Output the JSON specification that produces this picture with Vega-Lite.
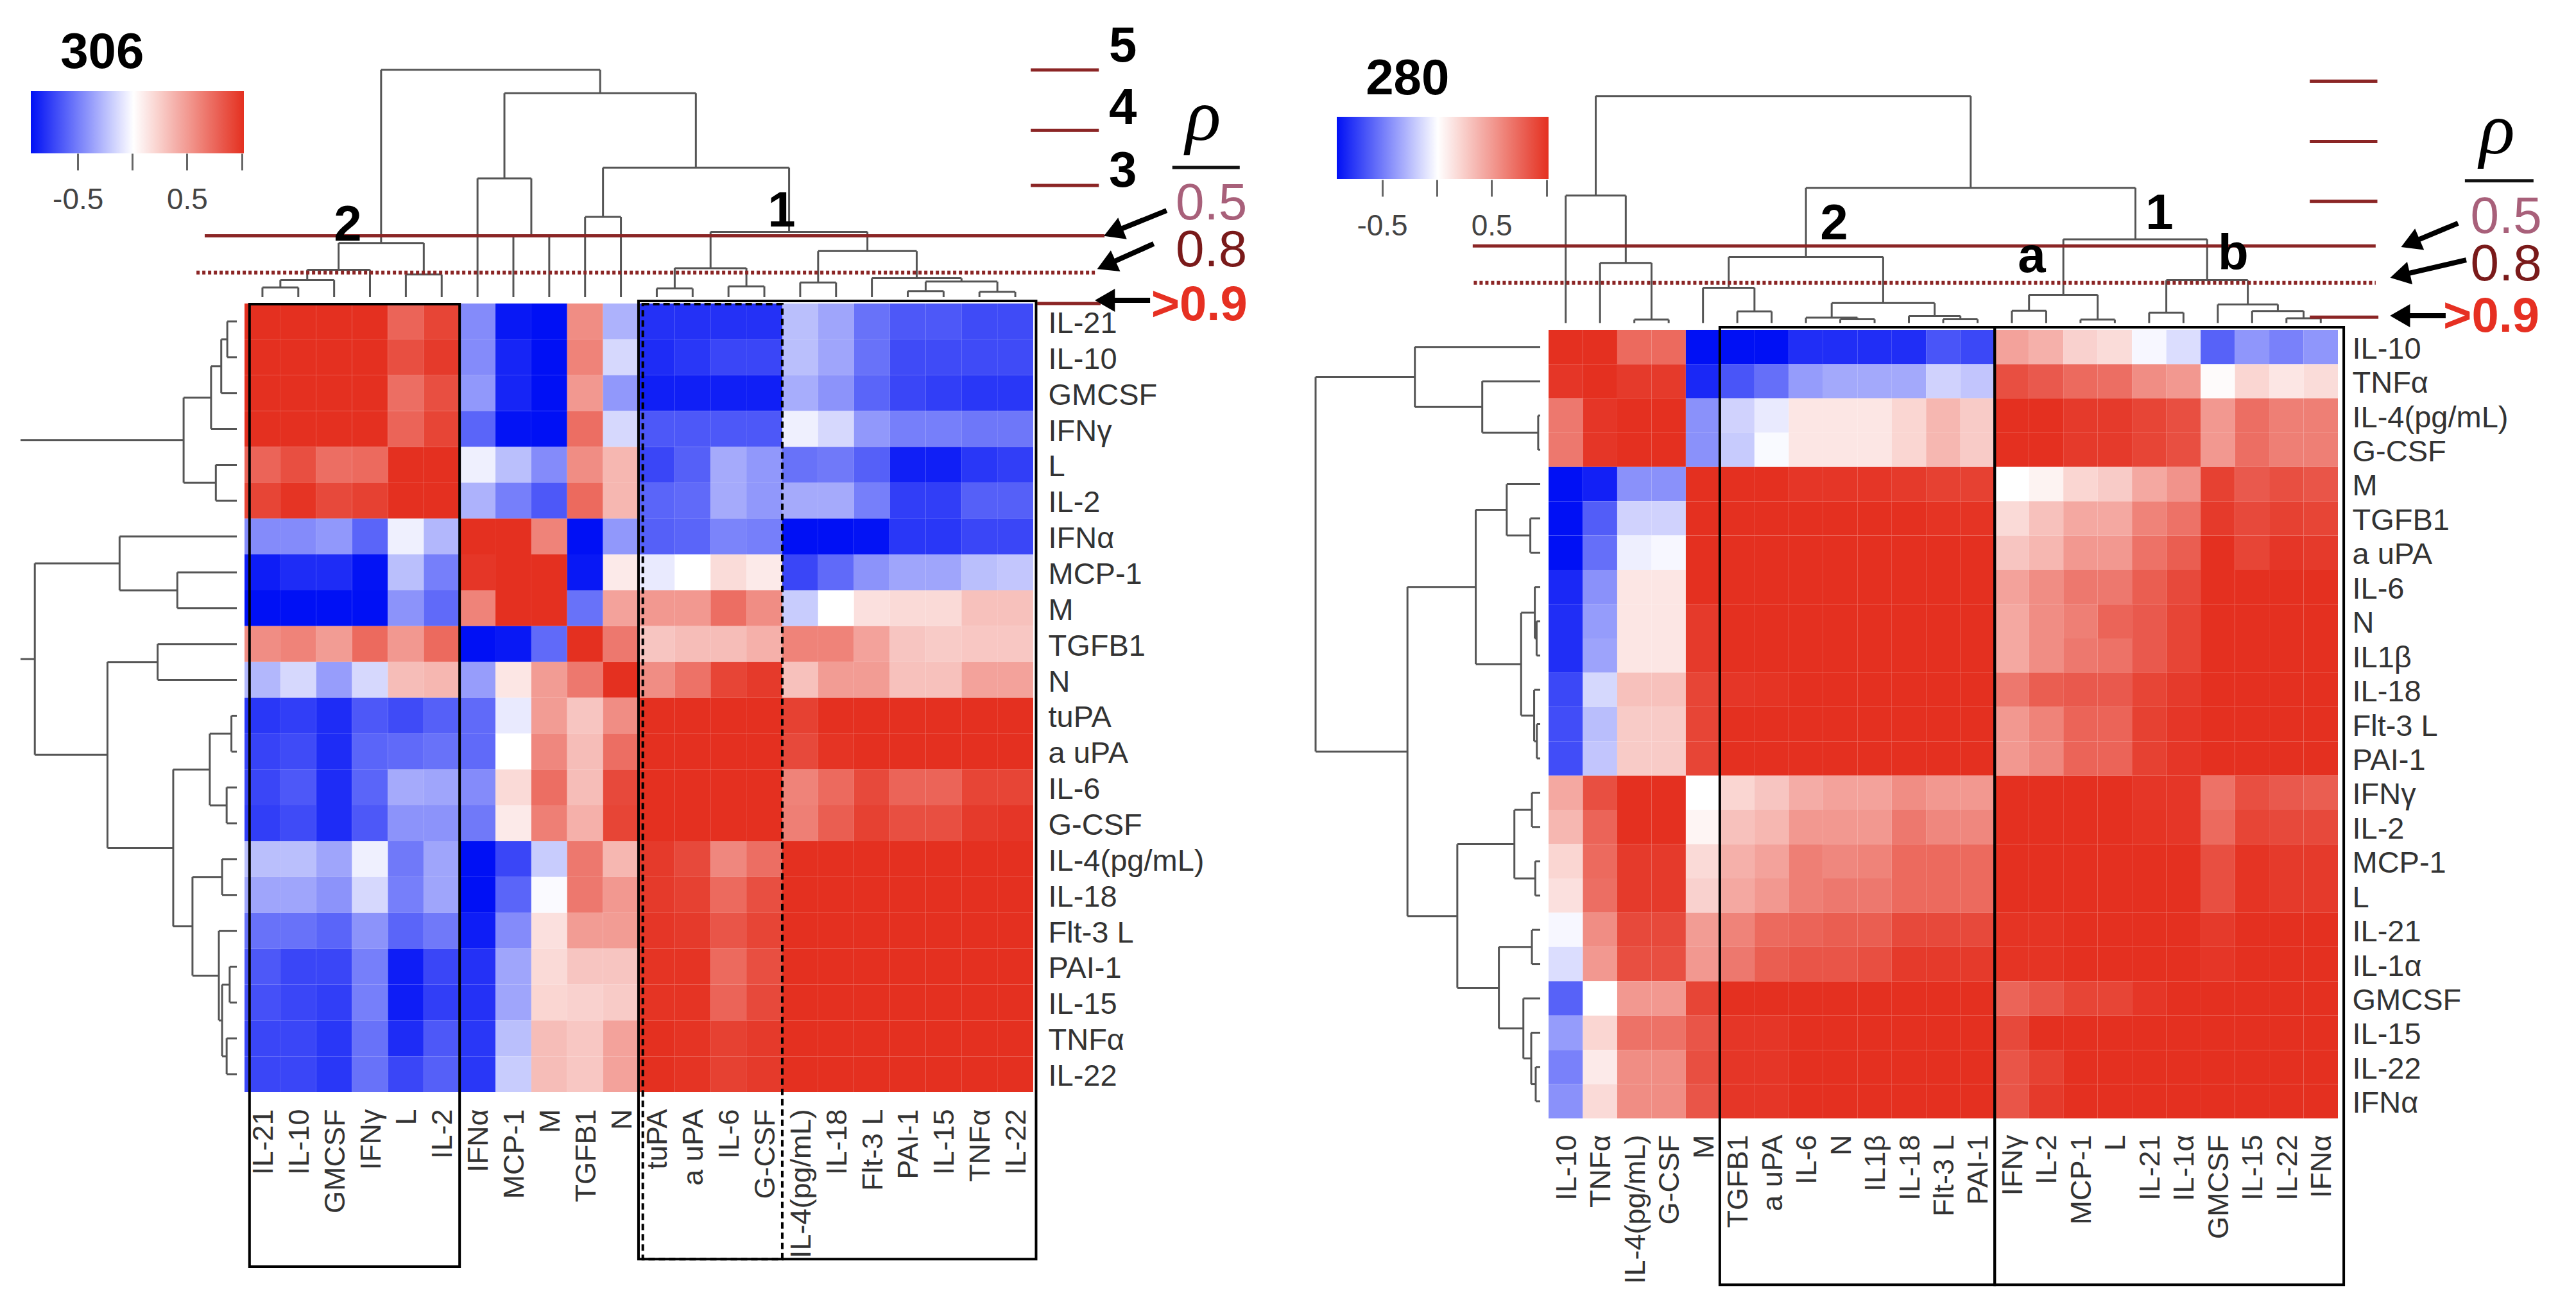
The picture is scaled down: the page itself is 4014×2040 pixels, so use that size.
{"$schema":"https://vega.github.io/schema/vega-lite/v6.json","width":4014,"height":2040,"autosize":{"type":"none"},"padding":0,"background":"#ffffff","config":{"view":{"stroke":null},"axis":{"grid":false}},
"datasets":{
"m306":[
{"r":"IL-21","c":"IL-21","v":1},{"r":"IL-21","c":"IL-10","v":1},{"r":"IL-21","c":"GMCSF","v":1},{"r":"IL-21","c":"IFNγ","v":1},{"r":"IL-21","c":"L","v":0.75},{"r":"IL-21","c":"IL-2","v":0.9},{"r":"IL-21","c":"IFNα","v":-0.45},{"r":"IL-21","c":"MCP-1","v":-0.9},{"r":"IL-21","c":"M","v":-1},{"r":"IL-21","c":"TGFB1","v":0.55},{"r":"IL-21","c":"N","v":-0.3},{"r":"IL-21","c":"tuPA","v":-0.8},{"r":"IL-21","c":"a uPA","v":-0.8},{"r":"IL-21","c":"IL-6","v":-0.8},{"r":"IL-21","c":"G-CSF","v":-0.8},{"r":"IL-21","c":"IL-4(pg/mL)","v":-0.25},{"r":"IL-21","c":"IL-18","v":-0.35},{"r":"IL-21","c":"Flt-3 L","v":-0.55},{"r":"IL-21","c":"PAI-1","v":-0.65},{"r":"IL-21","c":"IL-15","v":-0.65},{"r":"IL-21","c":"TNFα","v":-0.7},{"r":"IL-21","c":"IL-22","v":-0.7},
{"r":"IL-10","c":"IL-21","v":1},{"r":"IL-10","c":"IL-10","v":1},{"r":"IL-10","c":"GMCSF","v":1},{"r":"IL-10","c":"IFNγ","v":1},{"r":"IL-10","c":"L","v":0.85},{"r":"IL-10","c":"IL-2","v":0.95},{"r":"IL-10","c":"IFNα","v":-0.45},{"r":"IL-10","c":"MCP-1","v":-0.85},{"r":"IL-10","c":"M","v":-1},{"r":"IL-10","c":"TGFB1","v":0.6},{"r":"IL-10","c":"N","v":-0.15},{"r":"IL-10","c":"tuPA","v":-0.82},{"r":"IL-10","c":"a uPA","v":-0.78},{"r":"IL-10","c":"IL-6","v":-0.72},{"r":"IL-10","c":"G-CSF","v":-0.72},{"r":"IL-10","c":"IL-4(pg/mL)","v":-0.25},{"r":"IL-10","c":"IL-18","v":-0.35},{"r":"IL-10","c":"Flt-3 L","v":-0.55},{"r":"IL-10","c":"PAI-1","v":-0.7},{"r":"IL-10","c":"IL-15","v":-0.7},{"r":"IL-10","c":"TNFα","v":-0.7},{"r":"IL-10","c":"IL-22","v":-0.7},
{"r":"GMCSF","c":"IL-21","v":1},{"r":"GMCSF","c":"IL-10","v":1},{"r":"GMCSF","c":"GMCSF","v":1},{"r":"GMCSF","c":"IFNγ","v":1},{"r":"GMCSF","c":"L","v":0.7},{"r":"GMCSF","c":"IL-2","v":0.85},{"r":"GMCSF","c":"IFNα","v":-0.4},{"r":"GMCSF","c":"MCP-1","v":-0.85},{"r":"GMCSF","c":"M","v":-1},{"r":"GMCSF","c":"TGFB1","v":0.5},{"r":"GMCSF","c":"N","v":-0.4},{"r":"GMCSF","c":"tuPA","v":-0.87},{"r":"GMCSF","c":"a uPA","v":-0.87},{"r":"GMCSF","c":"IL-6","v":-0.87},{"r":"GMCSF","c":"G-CSF","v":-0.87},{"r":"GMCSF","c":"IL-4(pg/mL)","v":-0.32},{"r":"GMCSF","c":"IL-18","v":-0.42},{"r":"GMCSF","c":"Flt-3 L","v":-0.6},{"r":"GMCSF","c":"PAI-1","v":-0.72},{"r":"GMCSF","c":"IL-15","v":-0.75},{"r":"GMCSF","c":"TNFα","v":-0.78},{"r":"GMCSF","c":"IL-22","v":-0.78},
{"r":"IFNγ","c":"IL-21","v":1},{"r":"IFNγ","c":"IL-10","v":1},{"r":"IFNγ","c":"GMCSF","v":1},{"r":"IFNγ","c":"IFNγ","v":1},{"r":"IFNγ","c":"L","v":0.75},{"r":"IFNγ","c":"IL-2","v":0.9},{"r":"IFNγ","c":"IFNα","v":-0.6},{"r":"IFNγ","c":"MCP-1","v":-0.92},{"r":"IFNγ","c":"M","v":-1},{"r":"IFNγ","c":"TGFB1","v":0.7},{"r":"IFNγ","c":"N","v":-0.15},{"r":"IFNγ","c":"tuPA","v":-0.65},{"r":"IFNγ","c":"a uPA","v":-0.65},{"r":"IFNγ","c":"IL-6","v":-0.65},{"r":"IFNγ","c":"G-CSF","v":-0.65},{"r":"IFNγ","c":"IL-4(pg/mL)","v":-0.06},{"r":"IFNγ","c":"IL-18","v":-0.15},{"r":"IFNγ","c":"Flt-3 L","v":-0.4},{"r":"IFNγ","c":"PAI-1","v":-0.5},{"r":"IFNγ","c":"IL-15","v":-0.5},{"r":"IFNγ","c":"TNFα","v":-0.53},{"r":"IFNγ","c":"IL-22","v":-0.53},
{"r":"L","c":"IL-21","v":0.75},{"r":"L","c":"IL-10","v":0.85},{"r":"L","c":"GMCSF","v":0.7},{"r":"L","c":"IFNγ","v":0.72},{"r":"L","c":"L","v":1},{"r":"L","c":"IL-2","v":1},{"r":"L","c":"IFNα","v":-0.06},{"r":"L","c":"MCP-1","v":-0.25},{"r":"L","c":"M","v":-0.45},{"r":"L","c":"TGFB1","v":0.55},{"r":"L","c":"N","v":0.35},{"r":"L","c":"tuPA","v":-0.72},{"r":"L","c":"a uPA","v":-0.62},{"r":"L","c":"IL-6","v":-0.33},{"r":"L","c":"G-CSF","v":-0.4},{"r":"L","c":"IL-4(pg/mL)","v":-0.55},{"r":"L","c":"IL-18","v":-0.52},{"r":"L","c":"Flt-3 L","v":-0.62},{"r":"L","c":"PAI-1","v":-0.87},{"r":"L","c":"IL-15","v":-0.87},{"r":"L","c":"TNFα","v":-0.78},{"r":"L","c":"IL-22","v":-0.75},
{"r":"IL-2","c":"IL-21","v":0.9},{"r":"IL-2","c":"IL-10","v":0.98},{"r":"IL-2","c":"GMCSF","v":0.88},{"r":"IL-2","c":"IFNγ","v":0.92},{"r":"IL-2","c":"L","v":1},{"r":"IL-2","c":"IL-2","v":1},{"r":"IL-2","c":"IFNα","v":-0.3},{"r":"IL-2","c":"MCP-1","v":-0.5},{"r":"IL-2","c":"M","v":-0.65},{"r":"IL-2","c":"TGFB1","v":0.72},{"r":"IL-2","c":"N","v":0.35},{"r":"IL-2","c":"tuPA","v":-0.6},{"r":"IL-2","c":"a uPA","v":-0.58},{"r":"IL-2","c":"IL-6","v":-0.33},{"r":"IL-2","c":"G-CSF","v":-0.4},{"r":"IL-2","c":"IL-4(pg/mL)","v":-0.33},{"r":"IL-2","c":"IL-18","v":-0.33},{"r":"IL-2","c":"Flt-3 L","v":-0.5},{"r":"IL-2","c":"PAI-1","v":-0.75},{"r":"IL-2","c":"IL-15","v":-0.75},{"r":"IL-2","c":"TNFα","v":-0.62},{"r":"IL-2","c":"IL-22","v":-0.62},
{"r":"IFNα","c":"IL-21","v":-0.45},{"r":"IFNα","c":"IL-10","v":-0.45},{"r":"IFNα","c":"GMCSF","v":-0.4},{"r":"IFNα","c":"IFNγ","v":-0.6},{"r":"IFNα","c":"L","v":-0.06},{"r":"IFNα","c":"IL-2","v":-0.28},{"r":"IFNα","c":"IFNα","v":1},{"r":"IFNα","c":"MCP-1","v":1},{"r":"IFNα","c":"M","v":0.6},{"r":"IFNα","c":"TGFB1","v":-1},{"r":"IFNα","c":"N","v":-0.4},{"r":"IFNα","c":"tuPA","v":-0.62},{"r":"IFNα","c":"a uPA","v":-0.6},{"r":"IFNα","c":"IL-6","v":-0.48},{"r":"IFNα","c":"G-CSF","v":-0.5},{"r":"IFNα","c":"IL-4(pg/mL)","v":-1},{"r":"IFNα","c":"IL-18","v":-1},{"r":"IFNα","c":"Flt-3 L","v":-0.92},{"r":"IFNα","c":"PAI-1","v":-0.78},{"r":"IFNα","c":"IL-15","v":-0.78},{"r":"IFNα","c":"TNFα","v":-0.72},{"r":"IFNα","c":"IL-22","v":-0.72},
{"r":"MCP-1","c":"IL-21","v":-0.88},{"r":"MCP-1","c":"IL-10","v":-0.82},{"r":"MCP-1","c":"GMCSF","v":-0.82},{"r":"MCP-1","c":"IFNγ","v":-0.92},{"r":"MCP-1","c":"L","v":-0.25},{"r":"MCP-1","c":"IL-2","v":-0.5},{"r":"MCP-1","c":"IFNα","v":0.97},{"r":"MCP-1","c":"MCP-1","v":1},{"r":"MCP-1","c":"M","v":1},{"r":"MCP-1","c":"TGFB1","v":-0.9},{"r":"MCP-1","c":"N","v":0.1},{"r":"MCP-1","c":"tuPA","v":-0.08},{"r":"MCP-1","c":"a uPA","v":0},{"r":"MCP-1","c":"IL-6","v":0.17},{"r":"MCP-1","c":"G-CSF","v":0.1},{"r":"MCP-1","c":"IL-4(pg/mL)","v":-0.72},{"r":"MCP-1","c":"IL-18","v":-0.58},{"r":"MCP-1","c":"Flt-3 L","v":-0.42},{"r":"MCP-1","c":"PAI-1","v":-0.35},{"r":"MCP-1","c":"IL-15","v":-0.35},{"r":"MCP-1","c":"TNFα","v":-0.25},{"r":"MCP-1","c":"IL-22","v":-0.22},
{"r":"M","c":"IL-21","v":-1},{"r":"M","c":"IL-10","v":-1},{"r":"M","c":"GMCSF","v":-1},{"r":"M","c":"IFNγ","v":-1},{"r":"M","c":"L","v":-0.42},{"r":"M","c":"IL-2","v":-0.58},{"r":"M","c":"IFNα","v":0.6},{"r":"M","c":"MCP-1","v":1},{"r":"M","c":"M","v":1},{"r":"M","c":"TGFB1","v":-0.55},{"r":"M","c":"N","v":0.45},{"r":"M","c":"tuPA","v":0.5},{"r":"M","c":"a uPA","v":0.5},{"r":"M","c":"IL-6","v":0.7},{"r":"M","c":"G-CSF","v":0.55},{"r":"M","c":"IL-4(pg/mL)","v":-0.2},{"r":"M","c":"IL-18","v":0},{"r":"M","c":"Flt-3 L","v":0.15},{"r":"M","c":"PAI-1","v":0.18},{"r":"M","c":"IL-15","v":0.18},{"r":"M","c":"TNFα","v":0.3},{"r":"M","c":"IL-22","v":0.3},
{"r":"TGFB1","c":"IL-21","v":0.55},{"r":"TGFB1","c":"IL-10","v":0.6},{"r":"TGFB1","c":"GMCSF","v":0.48},{"r":"TGFB1","c":"IFNγ","v":0.72},{"r":"TGFB1","c":"L","v":0.5},{"r":"TGFB1","c":"IL-2","v":0.72},{"r":"TGFB1","c":"IFNα","v":-1},{"r":"TGFB1","c":"MCP-1","v":-0.9},{"r":"TGFB1","c":"M","v":-0.58},{"r":"TGFB1","c":"TGFB1","v":1},{"r":"TGFB1","c":"N","v":0.65},{"r":"TGFB1","c":"tuPA","v":0.28},{"r":"TGFB1","c":"a uPA","v":0.32},{"r":"TGFB1","c":"IL-6","v":0.32},{"r":"TGFB1","c":"G-CSF","v":0.38},{"r":"TGFB1","c":"IL-4(pg/mL)","v":0.6},{"r":"TGFB1","c":"IL-18","v":0.6},{"r":"TGFB1","c":"Flt-3 L","v":0.45},{"r":"TGFB1","c":"PAI-1","v":0.28},{"r":"TGFB1","c":"IL-15","v":0.25},{"r":"TGFB1","c":"TNFα","v":0.27},{"r":"TGFB1","c":"IL-22","v":0.27},
{"r":"N","c":"IL-21","v":-0.28},{"r":"N","c":"IL-10","v":-0.15},{"r":"N","c":"GMCSF","v":-0.38},{"r":"N","c":"IFNγ","v":-0.15},{"r":"N","c":"L","v":0.32},{"r":"N","c":"IL-2","v":0.35},{"r":"N","c":"IFNα","v":-0.38},{"r":"N","c":"MCP-1","v":0.12},{"r":"N","c":"M","v":0.48},{"r":"N","c":"TGFB1","v":0.65},{"r":"N","c":"N","v":1},{"r":"N","c":"tuPA","v":0.55},{"r":"N","c":"a uPA","v":0.68},{"r":"N","c":"IL-6","v":0.9},{"r":"N","c":"G-CSF","v":0.95},{"r":"N","c":"IL-4(pg/mL)","v":0.3},{"r":"N","c":"IL-18","v":0.48},{"r":"N","c":"Flt-3 L","v":0.48},{"r":"N","c":"PAI-1","v":0.3},{"r":"N","c":"IL-15","v":0.3},{"r":"N","c":"TNFα","v":0.45},{"r":"N","c":"IL-22","v":0.45},
{"r":"tuPA","c":"IL-21","v":-0.78},{"r":"tuPA","c":"IL-10","v":-0.75},{"r":"tuPA","c":"GMCSF","v":-0.82},{"r":"tuPA","c":"IFNγ","v":-0.65},{"r":"tuPA","c":"L","v":-0.7},{"r":"tuPA","c":"IL-2","v":-0.62},{"r":"tuPA","c":"IFNα","v":-0.58},{"r":"tuPA","c":"MCP-1","v":-0.08},{"r":"tuPA","c":"M","v":0.48},{"r":"tuPA","c":"TGFB1","v":0.28},{"r":"tuPA","c":"N","v":0.55},{"r":"tuPA","c":"tuPA","v":1},{"r":"tuPA","c":"a uPA","v":1},{"r":"tuPA","c":"IL-6","v":1},{"r":"tuPA","c":"G-CSF","v":1},{"r":"tuPA","c":"IL-4(pg/mL)","v":0.92},{"r":"tuPA","c":"IL-18","v":1},{"r":"tuPA","c":"Flt-3 L","v":1},{"r":"tuPA","c":"PAI-1","v":1},{"r":"tuPA","c":"IL-15","v":1},{"r":"tuPA","c":"TNFα","v":1},{"r":"tuPA","c":"IL-22","v":1},
{"r":"a uPA","c":"IL-21","v":-0.73},{"r":"a uPA","c":"IL-10","v":-0.7},{"r":"a uPA","c":"GMCSF","v":-0.82},{"r":"a uPA","c":"IFNγ","v":-0.6},{"r":"a uPA","c":"L","v":-0.58},{"r":"a uPA","c":"IL-2","v":-0.55},{"r":"a uPA","c":"IFNα","v":-0.58},{"r":"a uPA","c":"MCP-1","v":0},{"r":"a uPA","c":"M","v":0.58},{"r":"a uPA","c":"TGFB1","v":0.32},{"r":"a uPA","c":"N","v":0.7},{"r":"a uPA","c":"tuPA","v":1},{"r":"a uPA","c":"a uPA","v":1},{"r":"a uPA","c":"IL-6","v":1},{"r":"a uPA","c":"G-CSF","v":1},{"r":"a uPA","c":"IL-4(pg/mL)","v":0.88},{"r":"a uPA","c":"IL-18","v":0.98},{"r":"a uPA","c":"Flt-3 L","v":1},{"r":"a uPA","c":"PAI-1","v":1},{"r":"a uPA","c":"IL-15","v":1},{"r":"a uPA","c":"TNFα","v":1},{"r":"a uPA","c":"IL-22","v":1},
{"r":"IL-6","c":"IL-21","v":-0.72},{"r":"IL-6","c":"IL-10","v":-0.65},{"r":"IL-6","c":"GMCSF","v":-0.82},{"r":"IL-6","c":"IFNγ","v":-0.6},{"r":"IL-6","c":"L","v":-0.33},{"r":"IL-6","c":"IL-2","v":-0.35},{"r":"IL-6","c":"IFNα","v":-0.45},{"r":"IL-6","c":"MCP-1","v":0.18},{"r":"IL-6","c":"M","v":0.7},{"r":"IL-6","c":"TGFB1","v":0.32},{"r":"IL-6","c":"N","v":0.88},{"r":"IL-6","c":"tuPA","v":1},{"r":"IL-6","c":"a uPA","v":1},{"r":"IL-6","c":"IL-6","v":1},{"r":"IL-6","c":"G-CSF","v":1},{"r":"IL-6","c":"IL-4(pg/mL)","v":0.6},{"r":"IL-6","c":"IL-18","v":0.72},{"r":"IL-6","c":"Flt-3 L","v":0.88},{"r":"IL-6","c":"PAI-1","v":0.75},{"r":"IL-6","c":"IL-15","v":0.75},{"r":"IL-6","c":"TNFα","v":0.9},{"r":"IL-6","c":"IL-22","v":0.9},
{"r":"G-CSF","c":"IL-21","v":-0.75},{"r":"G-CSF","c":"IL-10","v":-0.7},{"r":"G-CSF","c":"GMCSF","v":-0.82},{"r":"G-CSF","c":"IFNγ","v":-0.65},{"r":"G-CSF","c":"L","v":-0.42},{"r":"G-CSF","c":"IL-2","v":-0.42},{"r":"G-CSF","c":"IFNα","v":-0.52},{"r":"G-CSF","c":"MCP-1","v":0.1},{"r":"G-CSF","c":"M","v":0.62},{"r":"G-CSF","c":"TGFB1","v":0.38},{"r":"G-CSF","c":"N","v":0.9},{"r":"G-CSF","c":"tuPA","v":1},{"r":"G-CSF","c":"a uPA","v":1},{"r":"G-CSF","c":"IL-6","v":1},{"r":"G-CSF","c":"G-CSF","v":1},{"r":"G-CSF","c":"IL-4(pg/mL)","v":0.62},{"r":"G-CSF","c":"IL-18","v":0.78},{"r":"G-CSF","c":"Flt-3 L","v":0.92},{"r":"G-CSF","c":"PAI-1","v":0.85},{"r":"G-CSF","c":"IL-15","v":0.85},{"r":"G-CSF","c":"TNFα","v":0.95},{"r":"G-CSF","c":"IL-22","v":0.97},
{"r":"IL-4(pg/mL)","c":"IL-21","v":-0.25},{"r":"IL-4(pg/mL)","c":"IL-10","v":-0.25},{"r":"IL-4(pg/mL)","c":"GMCSF","v":-0.35},{"r":"IL-4(pg/mL)","c":"IFNγ","v":-0.06},{"r":"IL-4(pg/mL)","c":"L","v":-0.52},{"r":"IL-4(pg/mL)","c":"IL-2","v":-0.35},{"r":"IL-4(pg/mL)","c":"IFNα","v":-1},{"r":"IL-4(pg/mL)","c":"MCP-1","v":-0.72},{"r":"IL-4(pg/mL)","c":"M","v":-0.2},{"r":"IL-4(pg/mL)","c":"TGFB1","v":0.65},{"r":"IL-4(pg/mL)","c":"N","v":0.35},{"r":"IL-4(pg/mL)","c":"tuPA","v":0.95},{"r":"IL-4(pg/mL)","c":"a uPA","v":0.88},{"r":"IL-4(pg/mL)","c":"IL-6","v":0.58},{"r":"IL-4(pg/mL)","c":"G-CSF","v":0.7},{"r":"IL-4(pg/mL)","c":"IL-4(pg/mL)","v":1},{"r":"IL-4(pg/mL)","c":"IL-18","v":1},{"r":"IL-4(pg/mL)","c":"Flt-3 L","v":1},{"r":"IL-4(pg/mL)","c":"PAI-1","v":1},{"r":"IL-4(pg/mL)","c":"IL-15","v":1},{"r":"IL-4(pg/mL)","c":"TNFα","v":1},{"r":"IL-4(pg/mL)","c":"IL-22","v":1},
{"r":"IL-18","c":"IL-21","v":-0.35},{"r":"IL-18","c":"IL-10","v":-0.35},{"r":"IL-18","c":"GMCSF","v":-0.42},{"r":"IL-18","c":"IFNγ","v":-0.15},{"r":"IL-18","c":"L","v":-0.5},{"r":"IL-18","c":"IL-2","v":-0.35},{"r":"IL-18","c":"IFNα","v":-0.98},{"r":"IL-18","c":"MCP-1","v":-0.6},{"r":"IL-18","c":"M","v":-0.02},{"r":"IL-18","c":"TGFB1","v":0.65},{"r":"IL-18","c":"N","v":0.5},{"r":"IL-18","c":"tuPA","v":0.95},{"r":"IL-18","c":"a uPA","v":0.92},{"r":"IL-18","c":"IL-6","v":0.72},{"r":"IL-18","c":"G-CSF","v":0.85},{"r":"IL-18","c":"IL-4(pg/mL)","v":1},{"r":"IL-18","c":"IL-18","v":1},{"r":"IL-18","c":"Flt-3 L","v":1},{"r":"IL-18","c":"PAI-1","v":1},{"r":"IL-18","c":"IL-15","v":1},{"r":"IL-18","c":"TNFα","v":1},{"r":"IL-18","c":"IL-22","v":1},
{"r":"Flt-3 L","c":"IL-21","v":-0.55},{"r":"Flt-3 L","c":"IL-10","v":-0.55},{"r":"Flt-3 L","c":"GMCSF","v":-0.6},{"r":"Flt-3 L","c":"IFNγ","v":-0.42},{"r":"Flt-3 L","c":"L","v":-0.6},{"r":"Flt-3 L","c":"IL-2","v":-0.52},{"r":"Flt-3 L","c":"IFNα","v":-0.88},{"r":"Flt-3 L","c":"MCP-1","v":-0.45},{"r":"Flt-3 L","c":"M","v":0.15},{"r":"Flt-3 L","c":"TGFB1","v":0.48},{"r":"Flt-3 L","c":"N","v":0.48},{"r":"Flt-3 L","c":"tuPA","v":0.97},{"r":"Flt-3 L","c":"a uPA","v":0.95},{"r":"Flt-3 L","c":"IL-6","v":0.82},{"r":"Flt-3 L","c":"G-CSF","v":0.9},{"r":"Flt-3 L","c":"IL-4(pg/mL)","v":1},{"r":"Flt-3 L","c":"IL-18","v":1},{"r":"Flt-3 L","c":"Flt-3 L","v":1},{"r":"Flt-3 L","c":"PAI-1","v":1},{"r":"Flt-3 L","c":"IL-15","v":1},{"r":"Flt-3 L","c":"TNFα","v":1},{"r":"Flt-3 L","c":"IL-22","v":1},
{"r":"PAI-1","c":"IL-21","v":-0.65},{"r":"PAI-1","c":"IL-10","v":-0.72},{"r":"PAI-1","c":"GMCSF","v":-0.72},{"r":"PAI-1","c":"IFNγ","v":-0.5},{"r":"PAI-1","c":"L","v":-0.88},{"r":"PAI-1","c":"IL-2","v":-0.72},{"r":"PAI-1","c":"IFNα","v":-0.8},{"r":"PAI-1","c":"MCP-1","v":-0.35},{"r":"PAI-1","c":"M","v":0.18},{"r":"PAI-1","c":"TGFB1","v":0.28},{"r":"PAI-1","c":"N","v":0.28},{"r":"PAI-1","c":"tuPA","v":0.98},{"r":"PAI-1","c":"a uPA","v":0.98},{"r":"PAI-1","c":"IL-6","v":0.72},{"r":"PAI-1","c":"G-CSF","v":0.85},{"r":"PAI-1","c":"IL-4(pg/mL)","v":1},{"r":"PAI-1","c":"IL-18","v":1},{"r":"PAI-1","c":"Flt-3 L","v":1},{"r":"PAI-1","c":"PAI-1","v":1},{"r":"PAI-1","c":"IL-15","v":1},{"r":"PAI-1","c":"TNFα","v":1},{"r":"PAI-1","c":"IL-22","v":1},
{"r":"IL-15","c":"IL-21","v":-0.68},{"r":"IL-15","c":"IL-10","v":-0.72},{"r":"IL-15","c":"GMCSF","v":-0.75},{"r":"IL-15","c":"IFNγ","v":-0.5},{"r":"IL-15","c":"L","v":-0.88},{"r":"IL-15","c":"IL-2","v":-0.75},{"r":"IL-15","c":"IFNα","v":-0.8},{"r":"IL-15","c":"MCP-1","v":-0.35},{"r":"IL-15","c":"M","v":0.2},{"r":"IL-15","c":"TGFB1","v":0.22},{"r":"IL-15","c":"N","v":0.25},{"r":"IL-15","c":"tuPA","v":0.98},{"r":"IL-15","c":"a uPA","v":0.98},{"r":"IL-15","c":"IL-6","v":0.75},{"r":"IL-15","c":"G-CSF","v":0.88},{"r":"IL-15","c":"IL-4(pg/mL)","v":1},{"r":"IL-15","c":"IL-18","v":1},{"r":"IL-15","c":"Flt-3 L","v":1},{"r":"IL-15","c":"PAI-1","v":1},{"r":"IL-15","c":"IL-15","v":1},{"r":"IL-15","c":"TNFα","v":1},{"r":"IL-15","c":"IL-22","v":1},
{"r":"TNFα","c":"IL-21","v":-0.72},{"r":"TNFα","c":"IL-10","v":-0.72},{"r":"TNFα","c":"GMCSF","v":-0.78},{"r":"TNFα","c":"IFNγ","v":-0.55},{"r":"TNFα","c":"L","v":-0.82},{"r":"TNFα","c":"IL-2","v":-0.65},{"r":"TNFα","c":"IFNα","v":-0.78},{"r":"TNFα","c":"MCP-1","v":-0.25},{"r":"TNFα","c":"M","v":0.32},{"r":"TNFα","c":"TGFB1","v":0.27},{"r":"TNFα","c":"N","v":0.45},{"r":"TNFα","c":"tuPA","v":1},{"r":"TNFα","c":"a uPA","v":0.98},{"r":"TNFα","c":"IL-6","v":0.92},{"r":"TNFα","c":"G-CSF","v":0.95},{"r":"TNFα","c":"IL-4(pg/mL)","v":1},{"r":"TNFα","c":"IL-18","v":1},{"r":"TNFα","c":"Flt-3 L","v":1},{"r":"TNFα","c":"PAI-1","v":1},{"r":"TNFα","c":"IL-15","v":1},{"r":"TNFα","c":"TNFα","v":1},{"r":"TNFα","c":"IL-22","v":1},
{"r":"IL-22","c":"IL-21","v":-0.72},{"r":"IL-22","c":"IL-10","v":-0.72},{"r":"IL-22","c":"GMCSF","v":-0.78},{"r":"IL-22","c":"IFNγ","v":-0.55},{"r":"IL-22","c":"L","v":-0.72},{"r":"IL-22","c":"IL-2","v":-0.62},{"r":"IL-22","c":"IFNα","v":-0.78},{"r":"IL-22","c":"MCP-1","v":-0.2},{"r":"IL-22","c":"M","v":0.32},{"r":"IL-22","c":"TGFB1","v":0.27},{"r":"IL-22","c":"N","v":0.45},{"r":"IL-22","c":"tuPA","v":1},{"r":"IL-22","c":"a uPA","v":0.98},{"r":"IL-22","c":"IL-6","v":0.92},{"r":"IL-22","c":"G-CSF","v":0.95},{"r":"IL-22","c":"IL-4(pg/mL)","v":1},{"r":"IL-22","c":"IL-18","v":1},{"r":"IL-22","c":"Flt-3 L","v":1},{"r":"IL-22","c":"PAI-1","v":1},{"r":"IL-22","c":"IL-15","v":1},{"r":"IL-22","c":"TNFα","v":1},{"r":"IL-22","c":"IL-22","v":1}
],
"m280":[
{"r":"IL-10","c":"IL-10","v":1},{"r":"IL-10","c":"TNFα","v":1},{"r":"IL-10","c":"IL-4(pg/mL)","v":0.72},{"r":"IL-10","c":"G-CSF","v":0.72},{"r":"IL-10","c":"M","v":-1},{"r":"IL-10","c":"TGFB1","v":-0.95},{"r":"IL-10","c":"a uPA","v":-0.92},{"r":"IL-10","c":"IL-6","v":-0.8},{"r":"IL-10","c":"N","v":-0.8},{"r":"IL-10","c":"IL1β","v":-0.8},{"r":"IL-10","c":"IL-18","v":-0.8},{"r":"IL-10","c":"Flt-3 L","v":-0.65},{"r":"IL-10","c":"PAI-1","v":-0.7},{"r":"IL-10","c":"IFNγ","v":0.45},{"r":"IL-10","c":"IL-2","v":0.38},{"r":"IL-10","c":"MCP-1","v":0.22},{"r":"IL-10","c":"L","v":0.17},{"r":"IL-10","c":"IL-21","v":-0.03},{"r":"IL-10","c":"IL-1α","v":-0.13},{"r":"IL-10","c":"GMCSF","v":-0.6},{"r":"IL-10","c":"IL-15","v":-0.4},{"r":"IL-10","c":"IL-22","v":-0.48},{"r":"IL-10","c":"IFNα","v":-0.4},
{"r":"TNFα","c":"IL-10","v":0.97},{"r":"TNFα","c":"TNFα","v":1},{"r":"TNFα","c":"IL-4(pg/mL)","v":0.95},{"r":"TNFα","c":"G-CSF","v":0.95},{"r":"TNFα","c":"M","v":-0.82},{"r":"TNFα","c":"TGFB1","v":-0.65},{"r":"TNFα","c":"a uPA","v":-0.55},{"r":"TNFα","c":"IL-6","v":-0.38},{"r":"TNFα","c":"N","v":-0.33},{"r":"TNFα","c":"IL1β","v":-0.33},{"r":"TNFα","c":"IL-18","v":-0.33},{"r":"TNFα","c":"Flt-3 L","v":-0.17},{"r":"TNFα","c":"PAI-1","v":-0.22},{"r":"TNFα","c":"IFNγ","v":0.85},{"r":"TNFα","c":"IL-2","v":0.8},{"r":"TNFα","c":"MCP-1","v":0.72},{"r":"TNFα","c":"L","v":0.7},{"r":"TNFα","c":"IL-21","v":0.55},{"r":"TNFα","c":"IL-1α","v":0.5},{"r":"TNFα","c":"GMCSF","v":0.02},{"r":"TNFα","c":"IL-15","v":0.2},{"r":"TNFα","c":"IL-22","v":0.12},{"r":"TNFα","c":"IFNα","v":0.17},
{"r":"IL-4(pg/mL)","c":"IL-10","v":0.65},{"r":"IL-4(pg/mL)","c":"TNFα","v":0.97},{"r":"IL-4(pg/mL)","c":"IL-4(pg/mL)","v":1},{"r":"IL-4(pg/mL)","c":"G-CSF","v":1},{"r":"IL-4(pg/mL)","c":"M","v":-0.42},{"r":"IL-4(pg/mL)","c":"TGFB1","v":-0.17},{"r":"IL-4(pg/mL)","c":"a uPA","v":-0.08},{"r":"IL-4(pg/mL)","c":"IL-6","v":0.12},{"r":"IL-4(pg/mL)","c":"N","v":0.12},{"r":"IL-4(pg/mL)","c":"IL1β","v":0.12},{"r":"IL-4(pg/mL)","c":"IL-18","v":0.2},{"r":"IL-4(pg/mL)","c":"Flt-3 L","v":0.35},{"r":"IL-4(pg/mL)","c":"PAI-1","v":0.25},{"r":"IL-4(pg/mL)","c":"IFNγ","v":1},{"r":"IL-4(pg/mL)","c":"IL-2","v":1},{"r":"IL-4(pg/mL)","c":"MCP-1","v":0.95},{"r":"IL-4(pg/mL)","c":"L","v":0.95},{"r":"IL-4(pg/mL)","c":"IL-21","v":0.9},{"r":"IL-4(pg/mL)","c":"IL-1α","v":0.85},{"r":"IL-4(pg/mL)","c":"GMCSF","v":0.5},{"r":"IL-4(pg/mL)","c":"IL-15","v":0.7},{"r":"IL-4(pg/mL)","c":"IL-22","v":0.62},{"r":"IL-4(pg/mL)","c":"IFNα","v":0.62},
{"r":"G-CSF","c":"IL-10","v":0.65},{"r":"G-CSF","c":"TNFα","v":0.97},{"r":"G-CSF","c":"IL-4(pg/mL)","v":1},{"r":"G-CSF","c":"G-CSF","v":1},{"r":"G-CSF","c":"M","v":-0.42},{"r":"G-CSF","c":"TGFB1","v":-0.2},{"r":"G-CSF","c":"a uPA","v":-0.02},{"r":"G-CSF","c":"IL-6","v":0.12},{"r":"G-CSF","c":"N","v":0.12},{"r":"G-CSF","c":"IL1β","v":0.12},{"r":"G-CSF","c":"IL-18","v":0.2},{"r":"G-CSF","c":"Flt-3 L","v":0.35},{"r":"G-CSF","c":"PAI-1","v":0.25},{"r":"G-CSF","c":"IFNγ","v":1},{"r":"G-CSF","c":"IL-2","v":1},{"r":"G-CSF","c":"MCP-1","v":0.95},{"r":"G-CSF","c":"L","v":0.95},{"r":"G-CSF","c":"IL-21","v":0.9},{"r":"G-CSF","c":"IL-1α","v":0.85},{"r":"G-CSF","c":"GMCSF","v":0.5},{"r":"G-CSF","c":"IL-15","v":0.7},{"r":"G-CSF","c":"IL-22","v":0.62},{"r":"G-CSF","c":"IFNα","v":0.62},
{"r":"M","c":"IL-10","v":-1},{"r":"M","c":"TNFα","v":-0.85},{"r":"M","c":"IL-4(pg/mL)","v":-0.42},{"r":"M","c":"G-CSF","v":-0.42},{"r":"M","c":"M","v":1},{"r":"M","c":"TGFB1","v":1},{"r":"M","c":"a uPA","v":1},{"r":"M","c":"IL-6","v":0.97},{"r":"M","c":"N","v":0.97},{"r":"M","c":"IL1β","v":0.97},{"r":"M","c":"IL-18","v":0.95},{"r":"M","c":"Flt-3 L","v":0.92},{"r":"M","c":"PAI-1","v":0.92},{"r":"M","c":"IFNγ","v":0},{"r":"M","c":"IL-2","v":0.06},{"r":"M","c":"MCP-1","v":0.2},{"r":"M","c":"L","v":0.25},{"r":"M","c":"IL-21","v":0.42},{"r":"M","c":"IL-1α","v":0.52},{"r":"M","c":"GMCSF","v":0.92},{"r":"M","c":"IL-15","v":0.8},{"r":"M","c":"IL-22","v":0.85},{"r":"M","c":"IFNα","v":0.82},
{"r":"TGFB1","c":"IL-10","v":-0.95},{"r":"TGFB1","c":"TNFα","v":-0.62},{"r":"TGFB1","c":"IL-4(pg/mL)","v":-0.17},{"r":"TGFB1","c":"G-CSF","v":-0.17},{"r":"TGFB1","c":"M","v":1},{"r":"TGFB1","c":"TGFB1","v":1},{"r":"TGFB1","c":"a uPA","v":1},{"r":"TGFB1","c":"IL-6","v":1},{"r":"TGFB1","c":"N","v":1},{"r":"TGFB1","c":"IL1β","v":1},{"r":"TGFB1","c":"IL-18","v":1},{"r":"TGFB1","c":"Flt-3 L","v":0.98},{"r":"TGFB1","c":"PAI-1","v":0.98},{"r":"TGFB1","c":"IFNγ","v":0.18},{"r":"TGFB1","c":"IL-2","v":0.3},{"r":"TGFB1","c":"MCP-1","v":0.42},{"r":"TGFB1","c":"L","v":0.42},{"r":"TGFB1","c":"IL-21","v":0.6},{"r":"TGFB1","c":"IL-1α","v":0.68},{"r":"TGFB1","c":"GMCSF","v":0.95},{"r":"TGFB1","c":"IL-15","v":0.88},{"r":"TGFB1","c":"IL-22","v":0.92},{"r":"TGFB1","c":"IFNα","v":0.9},
{"r":"a uPA","c":"IL-10","v":-0.95},{"r":"a uPA","c":"TNFα","v":-0.55},{"r":"a uPA","c":"IL-4(pg/mL)","v":-0.06},{"r":"a uPA","c":"G-CSF","v":-0.03},{"r":"a uPA","c":"M","v":1},{"r":"a uPA","c":"TGFB1","v":1},{"r":"a uPA","c":"a uPA","v":1},{"r":"a uPA","c":"IL-6","v":1},{"r":"a uPA","c":"N","v":1},{"r":"a uPA","c":"IL1β","v":1},{"r":"a uPA","c":"IL-18","v":1},{"r":"a uPA","c":"Flt-3 L","v":1},{"r":"a uPA","c":"PAI-1","v":1},{"r":"a uPA","c":"IFNγ","v":0.28},{"r":"a uPA","c":"IL-2","v":0.35},{"r":"a uPA","c":"MCP-1","v":0.5},{"r":"a uPA","c":"L","v":0.5},{"r":"a uPA","c":"IL-21","v":0.68},{"r":"a uPA","c":"IL-1α","v":0.78},{"r":"a uPA","c":"GMCSF","v":1},{"r":"a uPA","c":"IL-15","v":0.9},{"r":"a uPA","c":"IL-22","v":0.97},{"r":"a uPA","c":"IFNα","v":0.95},
{"r":"IL-6","c":"IL-10","v":-0.82},{"r":"IL-6","c":"TNFα","v":-0.42},{"r":"IL-6","c":"IL-4(pg/mL)","v":0.12},{"r":"IL-6","c":"G-CSF","v":0.12},{"r":"IL-6","c":"M","v":1},{"r":"IL-6","c":"TGFB1","v":1},{"r":"IL-6","c":"a uPA","v":1},{"r":"IL-6","c":"IL-6","v":1},{"r":"IL-6","c":"N","v":1},{"r":"IL-6","c":"IL1β","v":1},{"r":"IL-6","c":"IL-18","v":1},{"r":"IL-6","c":"Flt-3 L","v":1},{"r":"IL-6","c":"PAI-1","v":1},{"r":"IL-6","c":"IFNγ","v":0.45},{"r":"IL-6","c":"IL-2","v":0.55},{"r":"IL-6","c":"MCP-1","v":0.65},{"r":"IL-6","c":"L","v":0.65},{"r":"IL-6","c":"IL-21","v":0.78},{"r":"IL-6","c":"IL-1α","v":0.88},{"r":"IL-6","c":"GMCSF","v":1},{"r":"IL-6","c":"IL-15","v":1},{"r":"IL-6","c":"IL-22","v":1},{"r":"IL-6","c":"IFNα","v":1},
{"r":"N","c":"IL-10","v":-0.8},{"r":"N","c":"TNFα","v":-0.38},{"r":"N","c":"IL-4(pg/mL)","v":0.12},{"r":"N","c":"G-CSF","v":0.12},{"r":"N","c":"M","v":0.95},{"r":"N","c":"TGFB1","v":1},{"r":"N","c":"a uPA","v":1},{"r":"N","c":"IL-6","v":1},{"r":"N","c":"N","v":1},{"r":"N","c":"IL1β","v":1},{"r":"N","c":"IL-18","v":1},{"r":"N","c":"Flt-3 L","v":1},{"r":"N","c":"PAI-1","v":1},{"r":"N","c":"IFNγ","v":0.42},{"r":"N","c":"IL-2","v":0.55},{"r":"N","c":"MCP-1","v":0.62},{"r":"N","c":"L","v":0.75},{"r":"N","c":"IL-21","v":0.8},{"r":"N","c":"IL-1α","v":0.9},{"r":"N","c":"GMCSF","v":1},{"r":"N","c":"IL-15","v":1},{"r":"N","c":"IL-22","v":1},{"r":"N","c":"IFNα","v":1},
{"r":"IL1β","c":"IL-10","v":-0.8},{"r":"IL1β","c":"TNFα","v":-0.35},{"r":"IL1β","c":"IL-4(pg/mL)","v":0.12},{"r":"IL1β","c":"G-CSF","v":0.12},{"r":"IL1β","c":"M","v":0.95},{"r":"IL1β","c":"TGFB1","v":1},{"r":"IL1β","c":"a uPA","v":1},{"r":"IL1β","c":"IL-6","v":1},{"r":"IL1β","c":"N","v":1},{"r":"IL1β","c":"IL1β","v":1},{"r":"IL1β","c":"IL-18","v":1},{"r":"IL1β","c":"Flt-3 L","v":1},{"r":"IL1β","c":"PAI-1","v":1},{"r":"IL1β","c":"IFNγ","v":0.42},{"r":"IL1β","c":"IL-2","v":0.55},{"r":"IL1β","c":"MCP-1","v":0.65},{"r":"IL1β","c":"L","v":0.68},{"r":"IL1β","c":"IL-21","v":0.8},{"r":"IL1β","c":"IL-1α","v":0.9},{"r":"IL1β","c":"GMCSF","v":1},{"r":"IL1β","c":"IL-15","v":1},{"r":"IL1β","c":"IL-22","v":1},{"r":"IL1β","c":"IFNα","v":1},
{"r":"IL-18","c":"IL-10","v":-0.7},{"r":"IL-18","c":"TNFα","v":-0.15},{"r":"IL-18","c":"IL-4(pg/mL)","v":0.3},{"r":"IL-18","c":"G-CSF","v":0.3},{"r":"IL-18","c":"M","v":0.9},{"r":"IL-18","c":"TGFB1","v":0.97},{"r":"IL-18","c":"a uPA","v":0.98},{"r":"IL-18","c":"IL-6","v":1},{"r":"IL-18","c":"N","v":1},{"r":"IL-18","c":"IL1β","v":1},{"r":"IL-18","c":"IL-18","v":1},{"r":"IL-18","c":"Flt-3 L","v":1},{"r":"IL-18","c":"PAI-1","v":1},{"r":"IL-18","c":"IFNγ","v":0.65},{"r":"IL-18","c":"IL-2","v":0.78},{"r":"IL-18","c":"MCP-1","v":0.8},{"r":"IL-18","c":"L","v":0.8},{"r":"IL-18","c":"IL-21","v":0.9},{"r":"IL-18","c":"IL-1α","v":0.95},{"r":"IL-18","c":"GMCSF","v":1},{"r":"IL-18","c":"IL-15","v":1},{"r":"IL-18","c":"IL-22","v":1},{"r":"IL-18","c":"IFNα","v":1},
{"r":"Flt-3 L","c":"IL-10","v":-0.68},{"r":"Flt-3 L","c":"TNFα","v":-0.25},{"r":"Flt-3 L","c":"IL-4(pg/mL)","v":0.25},{"r":"Flt-3 L","c":"G-CSF","v":0.25},{"r":"Flt-3 L","c":"M","v":0.9},{"r":"Flt-3 L","c":"TGFB1","v":1},{"r":"Flt-3 L","c":"a uPA","v":1},{"r":"Flt-3 L","c":"IL-6","v":1},{"r":"Flt-3 L","c":"N","v":1},{"r":"Flt-3 L","c":"IL1β","v":1},{"r":"Flt-3 L","c":"IL-18","v":1},{"r":"Flt-3 L","c":"Flt-3 L","v":1},{"r":"Flt-3 L","c":"PAI-1","v":1},{"r":"Flt-3 L","c":"IFNγ","v":0.5},{"r":"Flt-3 L","c":"IL-2","v":0.6},{"r":"Flt-3 L","c":"MCP-1","v":0.75},{"r":"Flt-3 L","c":"L","v":0.75},{"r":"Flt-3 L","c":"IL-21","v":0.92},{"r":"Flt-3 L","c":"IL-1α","v":0.97},{"r":"Flt-3 L","c":"GMCSF","v":1},{"r":"Flt-3 L","c":"IL-15","v":1},{"r":"Flt-3 L","c":"IL-22","v":1},{"r":"Flt-3 L","c":"IFNα","v":1},
{"r":"PAI-1","c":"IL-10","v":-0.68},{"r":"PAI-1","c":"TNFα","v":-0.22},{"r":"PAI-1","c":"IL-4(pg/mL)","v":0.25},{"r":"PAI-1","c":"G-CSF","v":0.25},{"r":"PAI-1","c":"M","v":0.9},{"r":"PAI-1","c":"TGFB1","v":1},{"r":"PAI-1","c":"a uPA","v":1},{"r":"PAI-1","c":"IL-6","v":1},{"r":"PAI-1","c":"N","v":1},{"r":"PAI-1","c":"IL1β","v":1},{"r":"PAI-1","c":"IL-18","v":1},{"r":"PAI-1","c":"Flt-3 L","v":1},{"r":"PAI-1","c":"PAI-1","v":1},{"r":"PAI-1","c":"IFNγ","v":0.5},{"r":"PAI-1","c":"IL-2","v":0.58},{"r":"PAI-1","c":"MCP-1","v":0.75},{"r":"PAI-1","c":"L","v":0.75},{"r":"PAI-1","c":"IL-21","v":0.92},{"r":"PAI-1","c":"IL-1α","v":0.97},{"r":"PAI-1","c":"GMCSF","v":1},{"r":"PAI-1","c":"IL-15","v":1},{"r":"PAI-1","c":"IL-22","v":1},{"r":"PAI-1","c":"IFNα","v":1},
{"r":"IFNγ","c":"IL-10","v":0.42},{"r":"IFNγ","c":"TNFα","v":0.85},{"r":"IFNγ","c":"IL-4(pg/mL)","v":1},{"r":"IFNγ","c":"G-CSF","v":1},{"r":"IFNγ","c":"M","v":0},{"r":"IFNγ","c":"TGFB1","v":0.2},{"r":"IFNγ","c":"a uPA","v":0.28},{"r":"IFNγ","c":"IL-6","v":0.4},{"r":"IFNγ","c":"N","v":0.45},{"r":"IFNγ","c":"IL1β","v":0.45},{"r":"IFNγ","c":"IL-18","v":0.55},{"r":"IFNγ","c":"Flt-3 L","v":0.5},{"r":"IFNγ","c":"PAI-1","v":0.5},{"r":"IFNγ","c":"IFNγ","v":1},{"r":"IFNγ","c":"IL-2","v":1},{"r":"IFNγ","c":"MCP-1","v":1},{"r":"IFNγ","c":"L","v":1},{"r":"IFNγ","c":"IL-21","v":0.97},{"r":"IFNγ","c":"IL-1α","v":0.97},{"r":"IFNγ","c":"GMCSF","v":0.68},{"r":"IFNγ","c":"IL-15","v":0.85},{"r":"IFNγ","c":"IL-22","v":0.8},{"r":"IFNγ","c":"IFNα","v":0.78},
{"r":"IL-2","c":"IL-10","v":0.35},{"r":"IL-2","c":"TNFα","v":0.75},{"r":"IL-2","c":"IL-4(pg/mL)","v":1},{"r":"IL-2","c":"G-CSF","v":1},{"r":"IL-2","c":"M","v":0.05},{"r":"IL-2","c":"TGFB1","v":0.3},{"r":"IL-2","c":"a uPA","v":0.35},{"r":"IL-2","c":"IL-6","v":0.5},{"r":"IL-2","c":"N","v":0.5},{"r":"IL-2","c":"IL1β","v":0.5},{"r":"IL-2","c":"IL-18","v":0.65},{"r":"IL-2","c":"Flt-3 L","v":0.58},{"r":"IL-2","c":"PAI-1","v":0.58},{"r":"IL-2","c":"IFNγ","v":1},{"r":"IL-2","c":"IL-2","v":1},{"r":"IL-2","c":"MCP-1","v":1},{"r":"IL-2","c":"L","v":1},{"r":"IL-2","c":"IL-21","v":0.98},{"r":"IL-2","c":"IL-1α","v":0.97},{"r":"IL-2","c":"GMCSF","v":0.72},{"r":"IL-2","c":"IL-15","v":0.9},{"r":"IL-2","c":"IL-22","v":0.88},{"r":"IL-2","c":"IFNα","v":0.88},
{"r":"MCP-1","c":"IL-10","v":0.2},{"r":"MCP-1","c":"TNFα","v":0.72},{"r":"MCP-1","c":"IL-4(pg/mL)","v":0.95},{"r":"MCP-1","c":"G-CSF","v":0.95},{"r":"MCP-1","c":"M","v":0.18},{"r":"MCP-1","c":"TGFB1","v":0.38},{"r":"MCP-1","c":"a uPA","v":0.45},{"r":"MCP-1","c":"IL-6","v":0.62},{"r":"MCP-1","c":"N","v":0.58},{"r":"MCP-1","c":"IL1β","v":0.6},{"r":"MCP-1","c":"IL-18","v":0.72},{"r":"MCP-1","c":"Flt-3 L","v":0.72},{"r":"MCP-1","c":"PAI-1","v":0.72},{"r":"MCP-1","c":"IFNγ","v":1},{"r":"MCP-1","c":"IL-2","v":1},{"r":"MCP-1","c":"MCP-1","v":1},{"r":"MCP-1","c":"L","v":1},{"r":"MCP-1","c":"IL-21","v":1},{"r":"MCP-1","c":"IL-1α","v":1},{"r":"MCP-1","c":"GMCSF","v":0.85},{"r":"MCP-1","c":"IL-15","v":0.98},{"r":"MCP-1","c":"IL-22","v":0.95},{"r":"MCP-1","c":"IFNα","v":0.95},
{"r":"L","c":"IL-10","v":0.15},{"r":"L","c":"TNFα","v":0.7},{"r":"L","c":"IL-4(pg/mL)","v":0.95},{"r":"L","c":"G-CSF","v":0.95},{"r":"L","c":"M","v":0.22},{"r":"L","c":"TGFB1","v":0.42},{"r":"L","c":"a uPA","v":0.5},{"r":"L","c":"IL-6","v":0.62},{"r":"L","c":"N","v":0.65},{"r":"L","c":"IL1β","v":0.65},{"r":"L","c":"IL-18","v":0.72},{"r":"L","c":"Flt-3 L","v":0.72},{"r":"L","c":"PAI-1","v":0.72},{"r":"L","c":"IFNγ","v":1},{"r":"L","c":"IL-2","v":1},{"r":"L","c":"MCP-1","v":1},{"r":"L","c":"L","v":1},{"r":"L","c":"IL-21","v":1},{"r":"L","c":"IL-1α","v":1},{"r":"L","c":"GMCSF","v":0.85},{"r":"L","c":"IL-15","v":0.98},{"r":"L","c":"IL-22","v":0.95},{"r":"L","c":"IFNα","v":0.95},
{"r":"IL-21","c":"IL-10","v":-0.03},{"r":"IL-21","c":"TNFα","v":0.55},{"r":"IL-21","c":"IL-4(pg/mL)","v":0.88},{"r":"IL-21","c":"G-CSF","v":0.88},{"r":"IL-21","c":"M","v":0.48},{"r":"IL-21","c":"TGFB1","v":0.6},{"r":"IL-21","c":"a uPA","v":0.72},{"r":"IL-21","c":"IL-6","v":0.75},{"r":"IL-21","c":"N","v":0.78},{"r":"IL-21","c":"IL1β","v":0.78},{"r":"IL-21","c":"IL-18","v":0.88},{"r":"IL-21","c":"Flt-3 L","v":0.88},{"r":"IL-21","c":"PAI-1","v":0.88},{"r":"IL-21","c":"IFNγ","v":0.98},{"r":"IL-21","c":"IL-2","v":0.98},{"r":"IL-21","c":"MCP-1","v":1},{"r":"IL-21","c":"L","v":1},{"r":"IL-21","c":"IL-21","v":1},{"r":"IL-21","c":"IL-1α","v":1},{"r":"IL-21","c":"GMCSF","v":0.95},{"r":"IL-21","c":"IL-15","v":1},{"r":"IL-21","c":"IL-22","v":1},{"r":"IL-21","c":"IFNα","v":1},
{"r":"IL-1α","c":"IL-10","v":-0.13},{"r":"IL-1α","c":"TNFα","v":0.5},{"r":"IL-1α","c":"IL-4(pg/mL)","v":0.85},{"r":"IL-1α","c":"G-CSF","v":0.85},{"r":"IL-1α","c":"M","v":0.5},{"r":"IL-1α","c":"TGFB1","v":0.65},{"r":"IL-1α","c":"a uPA","v":0.78},{"r":"IL-1α","c":"IL-6","v":0.82},{"r":"IL-1α","c":"N","v":0.82},{"r":"IL-1α","c":"IL1β","v":0.85},{"r":"IL-1α","c":"IL-18","v":0.95},{"r":"IL-1α","c":"Flt-3 L","v":0.95},{"r":"IL-1α","c":"PAI-1","v":0.95},{"r":"IL-1α","c":"IFNγ","v":0.98},{"r":"IL-1α","c":"IL-2","v":0.98},{"r":"IL-1α","c":"MCP-1","v":1},{"r":"IL-1α","c":"L","v":1},{"r":"IL-1α","c":"IL-21","v":1},{"r":"IL-1α","c":"IL-1α","v":1},{"r":"IL-1α","c":"GMCSF","v":0.97},{"r":"IL-1α","c":"IL-15","v":1},{"r":"IL-1α","c":"IL-22","v":1},{"r":"IL-1α","c":"IFNα","v":1},
{"r":"GMCSF","c":"IL-10","v":-0.6},{"r":"GMCSF","c":"TNFα","v":0},{"r":"GMCSF","c":"IL-4(pg/mL)","v":0.5},{"r":"GMCSF","c":"G-CSF","v":0.5},{"r":"GMCSF","c":"M","v":0.9},{"r":"GMCSF","c":"TGFB1","v":1},{"r":"GMCSF","c":"a uPA","v":1},{"r":"GMCSF","c":"IL-6","v":1},{"r":"GMCSF","c":"N","v":1},{"r":"GMCSF","c":"IL1β","v":1},{"r":"GMCSF","c":"IL-18","v":1},{"r":"GMCSF","c":"Flt-3 L","v":1},{"r":"GMCSF","c":"PAI-1","v":1},{"r":"GMCSF","c":"IFNγ","v":0.75},{"r":"GMCSF","c":"IL-2","v":0.82},{"r":"GMCSF","c":"MCP-1","v":0.9},{"r":"GMCSF","c":"L","v":0.9},{"r":"GMCSF","c":"IL-21","v":0.97},{"r":"GMCSF","c":"IL-1α","v":1},{"r":"GMCSF","c":"GMCSF","v":1},{"r":"GMCSF","c":"IL-15","v":1},{"r":"GMCSF","c":"IL-22","v":1},{"r":"GMCSF","c":"IFNα","v":1},
{"r":"IL-15","c":"IL-10","v":-0.38},{"r":"IL-15","c":"TNFα","v":0.2},{"r":"IL-15","c":"IL-4(pg/mL)","v":0.68},{"r":"IL-15","c":"G-CSF","v":0.68},{"r":"IL-15","c":"M","v":0.82},{"r":"IL-15","c":"TGFB1","v":0.97},{"r":"IL-15","c":"a uPA","v":0.97},{"r":"IL-15","c":"IL-6","v":1},{"r":"IL-15","c":"N","v":1},{"r":"IL-15","c":"IL1β","v":1},{"r":"IL-15","c":"IL-18","v":1},{"r":"IL-15","c":"Flt-3 L","v":1},{"r":"IL-15","c":"PAI-1","v":1},{"r":"IL-15","c":"IFNγ","v":0.88},{"r":"IL-15","c":"IL-2","v":1},{"r":"IL-15","c":"MCP-1","v":1},{"r":"IL-15","c":"L","v":1},{"r":"IL-15","c":"IL-21","v":1},{"r":"IL-15","c":"IL-1α","v":1},{"r":"IL-15","c":"GMCSF","v":1},{"r":"IL-15","c":"IL-15","v":1},{"r":"IL-15","c":"IL-22","v":1},{"r":"IL-15","c":"IFNα","v":1},
{"r":"IL-22","c":"IL-10","v":-0.48},{"r":"IL-22","c":"TNFα","v":0.1},{"r":"IL-22","c":"IL-4(pg/mL)","v":0.55},{"r":"IL-22","c":"G-CSF","v":0.55},{"r":"IL-22","c":"M","v":0.85},{"r":"IL-22","c":"TGFB1","v":0.97},{"r":"IL-22","c":"a uPA","v":0.97},{"r":"IL-22","c":"IL-6","v":1},{"r":"IL-22","c":"N","v":1},{"r":"IL-22","c":"IL1β","v":1},{"r":"IL-22","c":"IL-18","v":1},{"r":"IL-22","c":"Flt-3 L","v":1},{"r":"IL-22","c":"PAI-1","v":1},{"r":"IL-22","c":"IFNγ","v":0.82},{"r":"IL-22","c":"IL-2","v":0.92},{"r":"IL-22","c":"MCP-1","v":1},{"r":"IL-22","c":"L","v":1},{"r":"IL-22","c":"IL-21","v":1},{"r":"IL-22","c":"IL-1α","v":1},{"r":"IL-22","c":"GMCSF","v":1},{"r":"IL-22","c":"IL-15","v":1},{"r":"IL-22","c":"IL-22","v":1},{"r":"IL-22","c":"IFNα","v":1},
{"r":"IFNα","c":"IL-10","v":-0.42},{"r":"IFNα","c":"TNFα","v":0.18},{"r":"IFNα","c":"IL-4(pg/mL)","v":0.55},{"r":"IFNα","c":"G-CSF","v":0.55},{"r":"IFNα","c":"M","v":0.82},{"r":"IFNα","c":"TGFB1","v":0.97},{"r":"IFNα","c":"a uPA","v":0.97},{"r":"IFNα","c":"IL-6","v":1},{"r":"IFNα","c":"N","v":1},{"r":"IFNα","c":"IL1β","v":1},{"r":"IFNα","c":"IL-18","v":1},{"r":"IFNα","c":"Flt-3 L","v":1},{"r":"IFNα","c":"PAI-1","v":1},{"r":"IFNα","c":"IFNγ","v":0.82},{"r":"IFNα","c":"IL-2","v":0.95},{"r":"IFNα","c":"MCP-1","v":1},{"r":"IFNα","c":"L","v":1},{"r":"IFNα","c":"IL-21","v":1},{"r":"IFNα","c":"IL-1α","v":1},{"r":"IFNα","c":"GMCSF","v":1},{"r":"IFNα","c":"IL-15","v":1},{"r":"IFNα","c":"IL-22","v":1},{"r":"IFNα","c":"IFNα","v":1}
],
"topA":[
{"leaf":0,"leaf2":0,"dist":0,"dist2":0.042},{"leaf":1,"leaf2":1,"dist":0,"dist2":0.042},{"leaf":0,"leaf2":1,"dist":0.042,"dist2":0.042},
{"leaf":0.5,"leaf2":0.5,"dist":0.042,"dist2":0.075},{"leaf":2,"leaf2":2,"dist":0,"dist2":0.075},{"leaf":0.5,"leaf2":2,"dist":0.075,"dist2":0.075},
{"leaf":1.25,"leaf2":1.25,"dist":0.075,"dist2":0.12},{"leaf":3,"leaf2":3,"dist":0,"dist2":0.12},{"leaf":1.25,"leaf2":3,"dist":0.12,"dist2":0.12},
{"leaf":4,"leaf2":4,"dist":0,"dist2":0.099},{"leaf":5,"leaf2":5,"dist":0,"dist2":0.099},{"leaf":4,"leaf2":5,"dist":0.099,"dist2":0.099},
{"leaf":2.125,"leaf2":2.125,"dist":0.12,"dist2":0.237},{"leaf":4.5,"leaf2":4.5,"dist":0.099,"dist2":0.237},{"leaf":2.125,"leaf2":4.5,"dist":0.237,"dist2":0.237},
{"leaf":7,"leaf2":7,"dist":0,"dist2":0.268},{"leaf":8,"leaf2":8,"dist":0,"dist2":0.268},{"leaf":7,"leaf2":8,"dist":0.268,"dist2":0.268},
{"leaf":6,"leaf2":6,"dist":0,"dist2":0.521},{"leaf":7.5,"leaf2":7.5,"dist":0.268,"dist2":0.521},{"leaf":6,"leaf2":7.5,"dist":0.521,"dist2":0.521},
{"leaf":9,"leaf2":9,"dist":0,"dist2":0.352},{"leaf":10,"leaf2":10,"dist":0,"dist2":0.352},{"leaf":9,"leaf2":10,"dist":0.352,"dist2":0.352},
{"leaf":11,"leaf2":11,"dist":0,"dist2":0.038},{"leaf":12,"leaf2":12,"dist":0,"dist2":0.038},{"leaf":11,"leaf2":12,"dist":0.038,"dist2":0.038},
{"leaf":13,"leaf2":13,"dist":0,"dist2":0.047},{"leaf":14,"leaf2":14,"dist":0,"dist2":0.047},{"leaf":13,"leaf2":14,"dist":0.047,"dist2":0.047},
{"leaf":11.5,"leaf2":11.5,"dist":0.038,"dist2":0.127},{"leaf":13.5,"leaf2":13.5,"dist":0.047,"dist2":0.127},{"leaf":11.5,"leaf2":13.5,"dist":0.127,"dist2":0.127},
{"leaf":15,"leaf2":15,"dist":0,"dist2":0.064},{"leaf":16,"leaf2":16,"dist":0,"dist2":0.064},{"leaf":15,"leaf2":16,"dist":0.064,"dist2":0.064},
{"leaf":18,"leaf2":18,"dist":0,"dist2":0.026},{"leaf":19,"leaf2":19,"dist":0,"dist2":0.026},{"leaf":18,"leaf2":19,"dist":0.026,"dist2":0.026},
{"leaf":20,"leaf2":20,"dist":0,"dist2":0.023},{"leaf":21,"leaf2":21,"dist":0,"dist2":0.023},{"leaf":20,"leaf2":21,"dist":0.023,"dist2":0.023},
{"leaf":18.5,"leaf2":18.5,"dist":0.026,"dist2":0.068},{"leaf":20.5,"leaf2":20.5,"dist":0.023,"dist2":0.068},{"leaf":18.5,"leaf2":20.5,"dist":0.068,"dist2":0.068},
{"leaf":17,"leaf2":17,"dist":0,"dist2":0.083},{"leaf":19.5,"leaf2":19.5,"dist":0.068,"dist2":0.083},{"leaf":17,"leaf2":19.5,"dist":0.083,"dist2":0.083},
{"leaf":15.5,"leaf2":15.5,"dist":0.064,"dist2":0.202},{"leaf":18.25,"leaf2":18.25,"dist":0.083,"dist2":0.202},{"leaf":15.5,"leaf2":18.25,"dist":0.202,"dist2":0.202},
{"leaf":12.5,"leaf2":12.5,"dist":0.127,"dist2":0.286},{"leaf":16.875,"leaf2":16.875,"dist":0.202,"dist2":0.286},{"leaf":12.5,"leaf2":16.875,"dist":0.286,"dist2":0.286},
{"leaf":9.5,"leaf2":9.5,"dist":0.352,"dist2":0.568},{"leaf":14.69,"leaf2":14.69,"dist":0.286,"dist2":0.568},{"leaf":9.5,"leaf2":14.69,"dist":0.568,"dist2":0.568},
{"leaf":6.75,"leaf2":6.75,"dist":0.521,"dist2":0.895},{"leaf":12.09,"leaf2":12.09,"dist":0.568,"dist2":0.895},{"leaf":6.75,"leaf2":12.09,"dist":0.895,"dist2":0.895},
{"leaf":3.31,"leaf2":3.31,"dist":0.237,"dist2":0.998},{"leaf":9.42,"leaf2":9.42,"dist":0.895,"dist2":0.998},{"leaf":3.31,"leaf2":9.42,"dist":0.998,"dist2":0.998}
],
"leftA":[
{"leaf":0,"leaf2":0,"dist":0,"dist2":0.044},{"leaf":1,"leaf2":1,"dist":0,"dist2":0.044},{"leaf":0,"leaf2":1,"dist":0.044,"dist2":0.044},
{"leaf":0.5,"leaf2":0.5,"dist":0.044,"dist2":0.072},{"leaf":2,"leaf2":2,"dist":0,"dist2":0.072},{"leaf":0.5,"leaf2":2,"dist":0.072,"dist2":0.072},
{"leaf":1.25,"leaf2":1.25,"dist":0.072,"dist2":0.119},{"leaf":3,"leaf2":3,"dist":0,"dist2":0.119},{"leaf":1.25,"leaf2":3,"dist":0.119,"dist2":0.119},
{"leaf":4,"leaf2":4,"dist":0,"dist2":0.097},{"leaf":5,"leaf2":5,"dist":0,"dist2":0.097},{"leaf":4,"leaf2":5,"dist":0.097,"dist2":0.097},
{"leaf":2.125,"leaf2":2.125,"dist":0.119,"dist2":0.246},{"leaf":4.5,"leaf2":4.5,"dist":0.097,"dist2":0.246},{"leaf":2.125,"leaf2":4.5,"dist":0.246,"dist2":0.246},
{"leaf":3.31,"leaf2":3.31,"dist":0.246,"dist2":1},
{"leaf":7,"leaf2":7,"dist":0,"dist2":0.275},{"leaf":8,"leaf2":8,"dist":0,"dist2":0.275},{"leaf":7,"leaf2":8,"dist":0.275,"dist2":0.275},
{"leaf":6,"leaf2":6,"dist":0,"dist2":0.542},{"leaf":7.5,"leaf2":7.5,"dist":0.275,"dist2":0.542},{"leaf":6,"leaf2":7.5,"dist":0.542,"dist2":0.542},
{"leaf":9,"leaf2":9,"dist":0,"dist2":0.366},{"leaf":10,"leaf2":10,"dist":0,"dist2":0.366},{"leaf":9,"leaf2":10,"dist":0.366,"dist2":0.366},
{"leaf":11,"leaf2":11,"dist":0,"dist2":0.025},{"leaf":12,"leaf2":12,"dist":0,"dist2":0.025},{"leaf":11,"leaf2":12,"dist":0.025,"dist2":0.025},
{"leaf":13,"leaf2":13,"dist":0,"dist2":0.047},{"leaf":14,"leaf2":14,"dist":0,"dist2":0.047},{"leaf":13,"leaf2":14,"dist":0.047,"dist2":0.047},
{"leaf":11.5,"leaf2":11.5,"dist":0.025,"dist2":0.125},{"leaf":13.5,"leaf2":13.5,"dist":0.047,"dist2":0.125},{"leaf":11.5,"leaf2":13.5,"dist":0.125,"dist2":0.125},
{"leaf":15,"leaf2":15,"dist":0,"dist2":0.068},{"leaf":16,"leaf2":16,"dist":0,"dist2":0.068},{"leaf":15,"leaf2":16,"dist":0.068,"dist2":0.068},
{"leaf":18,"leaf2":18,"dist":0,"dist2":0.033},{"leaf":19,"leaf2":19,"dist":0,"dist2":0.033},{"leaf":18,"leaf2":19,"dist":0.033,"dist2":0.033},
{"leaf":20,"leaf2":20,"dist":0,"dist2":0.047},{"leaf":21,"leaf2":21,"dist":0,"dist2":0.047},{"leaf":20,"leaf2":21,"dist":0.047,"dist2":0.047},
{"leaf":18.5,"leaf2":18.5,"dist":0.033,"dist2":0.068},{"leaf":20.5,"leaf2":20.5,"dist":0.047,"dist2":0.068},{"leaf":18.5,"leaf2":20.5,"dist":0.068,"dist2":0.068},
{"leaf":17,"leaf2":17,"dist":0,"dist2":0.083},{"leaf":19.5,"leaf2":19.5,"dist":0.068,"dist2":0.083},{"leaf":17,"leaf2":19.5,"dist":0.083,"dist2":0.083},
{"leaf":15.5,"leaf2":15.5,"dist":0.068,"dist2":0.205},{"leaf":18.25,"leaf2":18.25,"dist":0.083,"dist2":0.205},{"leaf":15.5,"leaf2":18.25,"dist":0.205,"dist2":0.205},
{"leaf":12.5,"leaf2":12.5,"dist":0.125,"dist2":0.294},{"leaf":16.875,"leaf2":16.875,"dist":0.205,"dist2":0.294},{"leaf":12.5,"leaf2":16.875,"dist":0.294,"dist2":0.294},
{"leaf":9.5,"leaf2":9.5,"dist":0.366,"dist2":0.598},{"leaf":14.69,"leaf2":14.69,"dist":0.294,"dist2":0.598},{"leaf":9.5,"leaf2":14.69,"dist":0.598,"dist2":0.598},
{"leaf":6.75,"leaf2":6.75,"dist":0.542,"dist2":0.934},{"leaf":12.09,"leaf2":12.09,"dist":0.598,"dist2":0.934},{"leaf":6.75,"leaf2":12.09,"dist":0.934,"dist2":0.934},
{"leaf":9.42,"leaf2":9.42,"dist":0.934,"dist2":1}
],
"topB":[
{"leaf":2,"leaf2":2,"dist":0,"dist2":0.015},{"leaf":3,"leaf2":3,"dist":0,"dist2":0.015},{"leaf":2,"leaf2":3,"dist":0.015,"dist2":0.015},
{"leaf":1,"leaf2":1,"dist":0,"dist2":0.265},{"leaf":2.5,"leaf2":2.5,"dist":0.015,"dist2":0.265},{"leaf":1,"leaf2":2.5,"dist":0.265,"dist2":0.265},
{"leaf":0,"leaf2":0,"dist":0,"dist2":0.562},{"leaf":1.75,"leaf2":1.75,"dist":0.265,"dist2":0.562},{"leaf":0,"leaf2":1.75,"dist":0.562,"dist2":0.562},
{"leaf":5,"leaf2":5,"dist":0,"dist2":0.051},{"leaf":6,"leaf2":6,"dist":0,"dist2":0.051},{"leaf":5,"leaf2":6,"dist":0.051,"dist2":0.051},
{"leaf":4,"leaf2":4,"dist":0,"dist2":0.155},{"leaf":5.5,"leaf2":5.5,"dist":0.051,"dist2":0.155},{"leaf":4,"leaf2":5.5,"dist":0.155,"dist2":0.155},
{"leaf":8,"leaf2":8,"dist":0,"dist2":0.017},{"leaf":9,"leaf2":9,"dist":0,"dist2":0.017},{"leaf":8,"leaf2":9,"dist":0.017,"dist2":0.017},
{"leaf":7,"leaf2":7,"dist":0,"dist2":0.024},{"leaf":8.5,"leaf2":8.5,"dist":0.017,"dist2":0.024},{"leaf":7,"leaf2":8.5,"dist":0.024,"dist2":0.024},
{"leaf":11,"leaf2":11,"dist":0,"dist2":0.017},{"leaf":12,"leaf2":12,"dist":0,"dist2":0.017},{"leaf":11,"leaf2":12,"dist":0.017,"dist2":0.017},
{"leaf":10,"leaf2":10,"dist":0,"dist2":0.031},{"leaf":11.5,"leaf2":11.5,"dist":0.017,"dist2":0.031},{"leaf":10,"leaf2":11.5,"dist":0.031,"dist2":0.031},
{"leaf":7.75,"leaf2":7.75,"dist":0.024,"dist2":0.088},{"leaf":10.75,"leaf2":10.75,"dist":0.031,"dist2":0.088},{"leaf":7.75,"leaf2":10.75,"dist":0.088,"dist2":0.088},
{"leaf":4.75,"leaf2":4.75,"dist":0.155,"dist2":0.291},{"leaf":9.25,"leaf2":9.25,"dist":0.088,"dist2":0.291},{"leaf":4.75,"leaf2":9.25,"dist":0.291,"dist2":0.291},
{"leaf":13,"leaf2":13,"dist":0,"dist2":0.054},{"leaf":14,"leaf2":14,"dist":0,"dist2":0.054},{"leaf":13,"leaf2":14,"dist":0.054,"dist2":0.054},
{"leaf":15,"leaf2":15,"dist":0,"dist2":0.015},{"leaf":16,"leaf2":16,"dist":0,"dist2":0.015},{"leaf":15,"leaf2":16,"dist":0.015,"dist2":0.015},
{"leaf":13.5,"leaf2":13.5,"dist":0.054,"dist2":0.124},{"leaf":15.5,"leaf2":15.5,"dist":0.015,"dist2":0.124},{"leaf":13.5,"leaf2":15.5,"dist":0.124,"dist2":0.124},
{"leaf":17,"leaf2":17,"dist":0,"dist2":0.046},{"leaf":18,"leaf2":18,"dist":0,"dist2":0.046},{"leaf":17,"leaf2":18,"dist":0.046,"dist2":0.046},
{"leaf":21,"leaf2":21,"dist":0,"dist2":0.021},{"leaf":22,"leaf2":22,"dist":0,"dist2":0.021},{"leaf":21,"leaf2":22,"dist":0.021,"dist2":0.021},
{"leaf":20,"leaf2":20,"dist":0,"dist2":0.053},{"leaf":21.5,"leaf2":21.5,"dist":0.021,"dist2":0.053},{"leaf":20,"leaf2":21.5,"dist":0.053,"dist2":0.053},
{"leaf":19,"leaf2":19,"dist":0,"dist2":0.082},{"leaf":20.75,"leaf2":20.75,"dist":0.053,"dist2":0.082},{"leaf":19,"leaf2":20.75,"dist":0.082,"dist2":0.082},
{"leaf":17.5,"leaf2":17.5,"dist":0.046,"dist2":0.189},{"leaf":19.875,"leaf2":19.875,"dist":0.082,"dist2":0.189},{"leaf":17.5,"leaf2":19.875,"dist":0.189,"dist2":0.189},
{"leaf":14.5,"leaf2":14.5,"dist":0.124,"dist2":0.369},{"leaf":18.69,"leaf2":18.69,"dist":0.189,"dist2":0.369},{"leaf":14.5,"leaf2":18.69,"dist":0.369,"dist2":0.369},
{"leaf":7,"leaf2":7,"dist":0.291,"dist2":0.596},{"leaf":16.6,"leaf2":16.6,"dist":0.369,"dist2":0.596},{"leaf":7,"leaf2":16.6,"dist":0.596,"dist2":0.596},
{"leaf":0.875,"leaf2":0.875,"dist":0.562,"dist2":1},{"leaf":11.8,"leaf2":11.8,"dist":0.596,"dist2":1},{"leaf":0.875,"leaf2":11.8,"dist":1,"dist2":1}
],
"leftB":[
{"leaf":2,"leaf2":2,"dist":0,"dist2":0.009},{"leaf":3,"leaf2":3,"dist":0,"dist2":0.009},{"leaf":2,"leaf2":3,"dist":0.009,"dist2":0.009},
{"leaf":1,"leaf2":1,"dist":0,"dist2":0.258},{"leaf":2.5,"leaf2":2.5,"dist":0.009,"dist2":0.258},{"leaf":1,"leaf2":2.5,"dist":0.258,"dist2":0.258},
{"leaf":0,"leaf2":0,"dist":0,"dist2":0.558},{"leaf":1.75,"leaf2":1.75,"dist":0.258,"dist2":0.558},{"leaf":0,"leaf2":1.75,"dist":0.558,"dist2":0.558},
{"leaf":5,"leaf2":5,"dist":0,"dist2":0.044},{"leaf":6,"leaf2":6,"dist":0,"dist2":0.044},{"leaf":5,"leaf2":6,"dist":0.044,"dist2":0.044},
{"leaf":4,"leaf2":4,"dist":0,"dist2":0.149},{"leaf":5.5,"leaf2":5.5,"dist":0.044,"dist2":0.149},{"leaf":4,"leaf2":5.5,"dist":0.149,"dist2":0.149},
{"leaf":8,"leaf2":8,"dist":0,"dist2":0.016},{"leaf":9,"leaf2":9,"dist":0,"dist2":0.016},{"leaf":8,"leaf2":9,"dist":0.016,"dist2":0.016},
{"leaf":7,"leaf2":7,"dist":0,"dist2":0.024},{"leaf":8.5,"leaf2":8.5,"dist":0.016,"dist2":0.024},{"leaf":7,"leaf2":8.5,"dist":0.024,"dist2":0.024},
{"leaf":11,"leaf2":11,"dist":0,"dist2":0.015},{"leaf":12,"leaf2":12,"dist":0,"dist2":0.015},{"leaf":11,"leaf2":12,"dist":0.015,"dist2":0.015},
{"leaf":10,"leaf2":10,"dist":0,"dist2":0.027},{"leaf":11.5,"leaf2":11.5,"dist":0.015,"dist2":0.027},{"leaf":10,"leaf2":11.5,"dist":0.027,"dist2":0.027},
{"leaf":7.75,"leaf2":7.75,"dist":0.024,"dist2":0.085},{"leaf":10.75,"leaf2":10.75,"dist":0.027,"dist2":0.085},{"leaf":7.75,"leaf2":10.75,"dist":0.085,"dist2":0.085},
{"leaf":4.75,"leaf2":4.75,"dist":0.149,"dist2":0.287},{"leaf":9.25,"leaf2":9.25,"dist":0.085,"dist2":0.287},{"leaf":4.75,"leaf2":9.25,"dist":0.287,"dist2":0.287},
{"leaf":13,"leaf2":13,"dist":0,"dist2":0.037},{"leaf":14,"leaf2":14,"dist":0,"dist2":0.037},{"leaf":13,"leaf2":14,"dist":0.037,"dist2":0.037},
{"leaf":15,"leaf2":15,"dist":0,"dist2":0.022},{"leaf":16,"leaf2":16,"dist":0,"dist2":0.022},{"leaf":15,"leaf2":16,"dist":0.022,"dist2":0.022},
{"leaf":13.5,"leaf2":13.5,"dist":0.037,"dist2":0.115},{"leaf":15.5,"leaf2":15.5,"dist":0.022,"dist2":0.115},{"leaf":13.5,"leaf2":15.5,"dist":0.115,"dist2":0.115},
{"leaf":17,"leaf2":17,"dist":0,"dist2":0.037},{"leaf":18,"leaf2":18,"dist":0,"dist2":0.037},{"leaf":17,"leaf2":18,"dist":0.037,"dist2":0.037},
{"leaf":21,"leaf2":21,"dist":0,"dist2":0.02},{"leaf":22,"leaf2":22,"dist":0,"dist2":0.02},{"leaf":21,"leaf2":22,"dist":0.02,"dist2":0.02},
{"leaf":20,"leaf2":20,"dist":0,"dist2":0.04},{"leaf":21.5,"leaf2":21.5,"dist":0.02,"dist2":0.04},{"leaf":20,"leaf2":21.5,"dist":0.04,"dist2":0.04},
{"leaf":19,"leaf2":19,"dist":0,"dist2":0.075},{"leaf":20.75,"leaf2":20.75,"dist":0.04,"dist2":0.075},{"leaf":19,"leaf2":20.75,"dist":0.075,"dist2":0.075},
{"leaf":17.5,"leaf2":17.5,"dist":0.037,"dist2":0.184},{"leaf":19.875,"leaf2":19.875,"dist":0.075,"dist2":0.184},{"leaf":17.5,"leaf2":19.875,"dist":0.184,"dist2":0.184},
{"leaf":14.5,"leaf2":14.5,"dist":0.115,"dist2":0.369},{"leaf":18.69,"leaf2":18.69,"dist":0.184,"dist2":0.369},{"leaf":14.5,"leaf2":18.69,"dist":0.369,"dist2":0.369},
{"leaf":7,"leaf2":7,"dist":0.287,"dist2":0.591},{"leaf":16.6,"leaf2":16.6,"dist":0.369,"dist2":0.591},{"leaf":7,"leaf2":16.6,"dist":0.591,"dist2":0.591},
{"leaf":0.875,"leaf2":0.875,"dist":0.558,"dist2":1},{"leaf":11.8,"leaf2":11.8,"dist":0.591,"dist2":1},{"leaf":0.875,"leaf2":11.8,"dist":1,"dist2":1}
]
},
"resolve":{"scale":{"x":"independent","y":"independent","color":"independent"}},
"layer":[
{"data":{"name":"m306"},"mark":{"type":"rect"},"encoding":{
"x":{"field":"c","type":"nominal","scale":{"domain":["IL-21","IL-10","GMCSF","IFNγ","L","IL-2","IFNα","MCP-1","M","TGFB1","N","tuPA","a uPA","IL-6","G-CSF","IL-4(pg/mL)","IL-18","Flt-3 L","PAI-1","IL-15","TNFα","IL-22"],"range":[381,1610],"paddingInner":0,"paddingOuter":0},"axis":{"orient":"bottom","offset":-338,"title":null,"domain":false,"ticks":false,"labelAngle":270,"labelAlign":"right","labelBaseline":"middle","labelPadding":26,"labelOffset":2,"labelFontSize":45,"labelFont":"Liberation Sans","labelColor":"#333333","labelLimit":1000,"labelOverlap":false}},
"y":{"field":"r","type":"nominal","scale":{"domain":["IL-21","IL-10","GMCSF","IFNγ","L","IL-2","IFNα","MCP-1","M","TGFB1","N","tuPA","a uPA","IL-6","G-CSF","IL-4(pg/mL)","IL-18","Flt-3 L","PAI-1","IL-15","TNFα","IL-22"],"range":[473,1702],"paddingInner":0,"paddingOuter":0},"axis":{"orient":"right","offset":-2404,"title":null,"domain":false,"ticks":false,"labelPadding":23,"labelOffset":4,"labelFontSize":47,"labelFont":"Liberation Sans","labelColor":"#333333","labelLimit":1000,"labelOverlap":false}},
"color":{"field":"v","type":"quantitative","scale":{"domain":[-0.93,0,1],"range":["#0010f5","#ffffff","#e43020"],"interpolate":"rgb","clamp":true},"legend":{"orient":"none","legendX":48,"legendY":142,"direction":"horizontal","gradientLength":332,"gradientThickness":97,"title":null,"labelOpacity":0,"gradientStrokeWidth":0,"tickCount":2}}}},
{"data":{"name":"m280"},"mark":{"type":"rect"},"encoding":{
"x":{"field":"c","type":"nominal","scale":{"domain":["IL-10","TNFα","IL-4(pg/mL)","G-CSF","M","TGFB1","a uPA","IL-6","N","IL1β","IL-18","Flt-3 L","PAI-1","IFNγ","IL-2","MCP-1","L","IL-21","IL-1α","GMCSF","IL-15","IL-22","IFNα"],"range":[2413,3643],"paddingInner":0,"paddingOuter":0},"axis":{"orient":"bottom","offset":-297,"title":null,"domain":false,"ticks":false,"labelAngle":270,"labelAlign":"right","labelBaseline":"middle","labelPadding":25,"labelOffset":2,"labelFontSize":45,"labelFont":"Liberation Sans","labelColor":"#333333","labelLimit":1000,"labelOverlap":false}},
"y":{"field":"r","type":"nominal","scale":{"domain":["IL-10","TNFα","IL-4(pg/mL)","G-CSF","M","TGFB1","a uPA","IL-6","N","IL1β","IL-18","Flt-3 L","PAI-1","IFNγ","IL-2","MCP-1","L","IL-21","IL-1α","GMCSF","IL-15","IL-22","IFNα"],"range":[514,1743],"paddingInner":0,"paddingOuter":0},"axis":{"orient":"right","offset":-371,"title":null,"domain":false,"ticks":false,"labelPadding":22,"labelOffset":4,"labelFontSize":47,"labelFont":"Liberation Sans","labelColor":"#333333","labelLimit":1000,"labelOverlap":false}},
"color":{"field":"v","type":"quantitative","scale":{"domain":[-0.913,0,1],"range":["#0010f5","#ffffff","#e43020"],"interpolate":"rgb","clamp":true},"legend":{"orient":"none","legendX":2083,"legendY":182,"direction":"horizontal","gradientLength":330,"gradientThickness":97,"title":null,"labelOpacity":0,"gradientStrokeWidth":0,"tickCount":2}}}},
{"data":{"values":[{"tick":-0.5},{"tick":0},{"tick":0.5},{"tick":1}]},"mark":{"type":"point","opacity":0},"encoding":{"x":{"field":"tick","type":"quantitative","scale":{"domain":[-0.93,1.02],"range":[48,380]},"axis":{"orient":"bottom","offset":-1801,"title":null,"domain":false,"values":[-0.5,0,0.5,1],"tickSize":26,"tickWidth":3,"tickColor":"#666666","labelExpr":"datum.value==-0.5?'-0.5':datum.value==0.5?'0.5':''","labelPadding":24,"labelFontSize":46,"labelFont":"Liberation Sans","labelColor":"#444444","labelOverlap":false}}}},
{"data":{"values":[{"tick":-0.5},{"tick":0},{"tick":0.5},{"tick":1}]},"mark":{"type":"point","opacity":0},"encoding":{"x":{"field":"tick","type":"quantitative","scale":{"domain":[-0.913,1.02],"range":[2083,2413]},"axis":{"orient":"bottom","offset":-1760,"title":null,"domain":false,"values":[-0.5,0,0.5,1],"tickSize":26,"tickWidth":3,"tickColor":"#666666","labelExpr":"datum.value==-0.5?'-0.5':datum.value==0.5?'0.5':''","labelPadding":24,"labelFontSize":46,"labelFont":"Liberation Sans","labelColor":"#444444","labelOverlap":false}}}},
{"encoding":{"x":{"field":"leaf","type":"quantitative","scale":{"domain":[-0.5,21.5],"range":[381,1610]},"axis":null},"y":{"field":"dist","type":"quantitative","scale":{"domain":[0,1],"range":[463,108]},"axis":null}},
"layer":[
{"data":{"name":"topA"},"mark":{"type":"rule","color":"#555555","strokeWidth":3},"encoding":{"x2":{"field":"leaf2"},"y2":{"field":"dist2"}}},
{"data":{"values":[{"rho":"0.5","leaf":-1.61,"leaf2":23.49,"dist":0.269},{"rho":">0.9","leaf":21.61,"leaf2":23.38,"dist":-0.028},{"rho":"k3","leaf":21.43,"leaf2":23.33,"dist":0.49},{"rho":"k4","leaf":21.43,"leaf2":23.33,"dist":0.732},{"rho":"k5","leaf":21.43,"leaf2":23.33,"dist":0.997}]},"mark":{"type":"rule","color":"#8b2525","strokeWidth":5},"encoding":{"x2":{"field":"leaf2"}}},
{"data":{"values":[{"rho":"0.8","leaf":-1.84,"leaf2":23.26,"dist":0.108}]},"mark":{"type":"rule","color":"#8b2525","strokeWidth":6,"strokeDash":[5,4]},"encoding":{"x2":{"field":"leaf2"}}},
{"data":{"values":[{"leaf":25.38,"leaf2":27.26,"dist":0.569}]},"mark":{"type":"rule","color":"#111111","strokeWidth":5},"encoding":{"x2":{"field":"leaf2"}}},
{"data":{"values":[{"leaf":23.73,"leaf2":25.22,"dist":0.285,"dist2":0.38},{"leaf":23.54,"leaf2":24.86,"dist":0.141,"dist2":0.234},{"leaf":23.5,"leaf2":24.76,"dist":-0.014,"dist2":-0.014}]},"mark":{"type":"rule","color":"#000000","strokeWidth":8},"encoding":{"x2":{"field":"leaf2"},"y2":{"field":"dist2"}}},
{"data":{"values":[{"leaf":23.73,"dist":0.285,"heading":248},{"leaf":23.54,"dist":0.141,"heading":246},{"leaf":23.5,"dist":-0.014,"heading":270}]},"mark":{"type":"point","shape":"triangle-up","filled":true,"color":"#000000","opacity":1,"size":1300},"encoding":{"angle":{"field":"heading","type":"quantitative","scale":null}}},
{"data":{"values":[{"t":"306","leaf":-4.47,"dist":1.07},{"t":"5","leaf":24,"dist":1.098},{"t":"4","leaf":24,"dist":0.825},{"t":"3","leaf":24,"dist":0.55},{"t":"2","leaf":2.38,"dist":0.313},{"t":"1","leaf":14.48,"dist":0.375}]},"mark":{"type":"text","font":"Liberation Sans","fontWeight":"bold","fontSize":78,"color":"#000000","baseline":"middle"},"encoding":{"text":{"field":"t"}}},
{"data":{"values":[{"t":"ρ","leaf":26.24,"dist":0.789}]},"mark":{"type":"text","font":"Liberation Serif","fontStyle":"italic","fontSize":115,"color":"#000000","baseline":"middle"},"encoding":{"text":{"field":"t"}}},
{"data":{"values":[{"t":"0.5","leaf":26.47,"dist":0.408}]},"mark":{"type":"text","font":"Liberation Sans","fontSize":80,"color":"#a8607a","baseline":"middle"},"encoding":{"text":{"field":"t"}}},
{"data":{"values":[{"t":"0.8","leaf":26.47,"dist":0.202}]},"mark":{"type":"text","font":"Liberation Sans","fontSize":80,"color":"#7a1a1a","baseline":"middle"},"encoding":{"text":{"field":"t"}}},
{"data":{"values":[{"t":">0.9","leaf":26.13,"dist":-0.037}]},"mark":{"type":"text","font":"Liberation Sans","fontWeight":"bold","fontSize":76,"color":"#e63022","baseline":"middle"},"encoding":{"text":{"field":"t"}}}
]},
{"encoding":{"x":{"field":"leaf","type":"quantitative","scale":{"domain":[-0.5,22.5],"range":[2413,3643]},"axis":null},"y":{"field":"dist","type":"quantitative","scale":{"domain":[0,1],"range":[503.4,149.8]},"axis":null}},
"layer":[
{"data":{"name":"topB"},"mark":{"type":"rule","color":"#555555","strokeWidth":3},"encoding":{"x2":{"field":"leaf2"},"y2":{"field":"dist2"}}},
{"data":{"values":[{"rho":"0.5","leaf":-2.71,"leaf2":23.6,"dist":0.34},{"rho":">0.9","leaf":21.68,"leaf2":23.68,"dist":0.026},{"rho":"k3","leaf":21.68,"leaf2":23.65,"dist":0.536},{"rho":"k4","leaf":21.68,"leaf2":23.65,"dist":0.8},{"rho":"k5","leaf":21.68,"leaf2":23.65,"dist":1.066}]},"mark":{"type":"rule","color":"#8b2525","strokeWidth":5},"encoding":{"x2":{"field":"leaf2"}}},
{"data":{"values":[{"rho":"0.8","leaf":-2.68,"leaf2":23.6,"dist":0.177}]},"mark":{"type":"rule","color":"#8b2525","strokeWidth":6,"strokeDash":[5,4]},"encoding":{"x2":{"field":"leaf2"}}},
{"data":{"values":[{"leaf":26.2,"leaf2":28.2,"dist":0.627}]},"mark":{"type":"rule","color":"#111111","strokeWidth":5},"encoding":{"x2":{"field":"leaf2"}}},
{"data":{"values":[{"leaf":24.61,"leaf2":26,"dist":0.352,"dist2":0.44},{"leaf":24.31,"leaf2":26.24,"dist":0.21,"dist2":0.278},{"leaf":24.31,"leaf2":25.64,"dist":0.032,"dist2":0.032}]},"mark":{"type":"rule","color":"#000000","strokeWidth":8},"encoding":{"x2":{"field":"leaf2"},"y2":{"field":"dist2"}}},
{"data":{"values":[{"leaf":24.61,"dist":0.352,"heading":247},{"leaf":24.31,"dist":0.21,"heading":257},{"leaf":24.31,"dist":0.032,"heading":270}]},"mark":{"type":"point","shape":"triangle-up","filled":true,"color":"#000000","opacity":1,"size":1300},"encoding":{"angle":{"field":"heading","type":"quantitative","scale":null}}},
{"data":{"values":[{"t":"280","leaf":-4.61,"dist":1.073},{"t":"2","leaf":7.82,"dist":0.435},{"t":"1","leaf":17.3,"dist":0.48},{"t":"a","leaf":13.58,"dist":0.289},{"t":"b","leaf":19.45,"dist":0.3}]},"mark":{"type":"text","font":"Liberation Sans","fontWeight":"bold","fontSize":78,"color":"#000000","baseline":"middle"},"encoding":{"text":{"field":"t"}}},
{"data":{"values":[{"t":"ρ","leaf":27.14,"dist":0.847}]},"mark":{"type":"text","font":"Liberation Serif","fontStyle":"italic","fontSize":115,"color":"#000000","baseline":"middle"},"encoding":{"text":{"field":"t"}}},
{"data":{"values":[{"t":"0.5","leaf":27.4,"dist":0.465}]},"mark":{"type":"text","font":"Liberation Sans","fontSize":80,"color":"#a8607a","baseline":"middle"},"encoding":{"text":{"field":"t"}}},
{"data":{"values":[{"t":"0.8","leaf":27.4,"dist":0.255}]},"mark":{"type":"text","font":"Liberation Sans","fontSize":80,"color":"#7a1a1a","baseline":"middle"},"encoding":{"text":{"field":"t"}}},
{"data":{"values":[{"t":">0.9","leaf":26.97,"dist":0.027}]},"mark":{"type":"text","font":"Liberation Sans","fontWeight":"bold","fontSize":76,"color":"#e63022","baseline":"middle"},"encoding":{"text":{"field":"t"}}}
]},
{"data":{"name":"leftA"},"mark":{"type":"rule","color":"#555555","strokeWidth":3},"encoding":{"x":{"field":"dist","type":"quantitative","scale":{"domain":[0,1],"range":[369,32]},"axis":null},"x2":{"field":"dist2"},"y":{"field":"leaf","type":"quantitative","scale":{"domain":[-0.5,21.5],"range":[473,1702]},"axis":null},"y2":{"field":"leaf2"}}},
{"data":{"name":"leftB"},"mark":{"type":"rule","color":"#555555","strokeWidth":3},"encoding":{"x":{"field":"dist","type":"quantitative","scale":{"domain":[0,1],"range":[2400,2050]},"axis":null},"x2":{"field":"dist2"},"y":{"field":"leaf","type":"quantitative","scale":{"domain":[-0.5,22.5],"range":[514,1743]},"axis":null},"y2":{"field":"leaf2"}}},
{"encoding":{"x":{"field":"col","type":"quantitative","scale":{"domain":[-0.5,21.5],"range":[381,1610]},"axis":null},"x2":{"field":"col2"},"y":{"field":"row","type":"quantitative","scale":{"domain":[-0.5,21.5],"range":[473,1702]},"axis":null},"y2":{"field":"row2"}},
"layer":[
{"data":{"values":[{"box":"2","col":-0.36,"col2":5.5,"row":-0.48,"row2":26.37},{"box":"1","col":10.49,"col2":21.58,"row":-0.57,"row2":26.16}]},"mark":{"type":"rect","fill":null,"fillOpacity":0,"stroke":"#000000","strokeWidth":4}},
{"data":{"values":[{"box":"dashed","col":10.61,"col2":14.5,"row":-0.48,"row2":26.16}]},"mark":{"type":"rect","fill":null,"fillOpacity":0,"stroke":"#000000","strokeWidth":4,"strokeDash":[10,6]}}
]},
{"data":{"values":[{"box":"2","col":4.49,"col2":12.5,"row":-0.575,"row2":27.35},{"box":"1","col":12.5,"col2":22.67,"row":-0.575,"row2":27.35}]},"mark":{"type":"rect","fill":null,"fillOpacity":0,"stroke":"#000000","strokeWidth":4},"encoding":{"x":{"field":"col","type":"quantitative","scale":{"domain":[-0.5,22.5],"range":[2413,3643]},"axis":null},"x2":{"field":"col2"},"y":{"field":"row","type":"quantitative","scale":{"domain":[-0.5,22.5],"range":[514,1743]},"axis":null},"y2":{"field":"row2"}}}
]}
